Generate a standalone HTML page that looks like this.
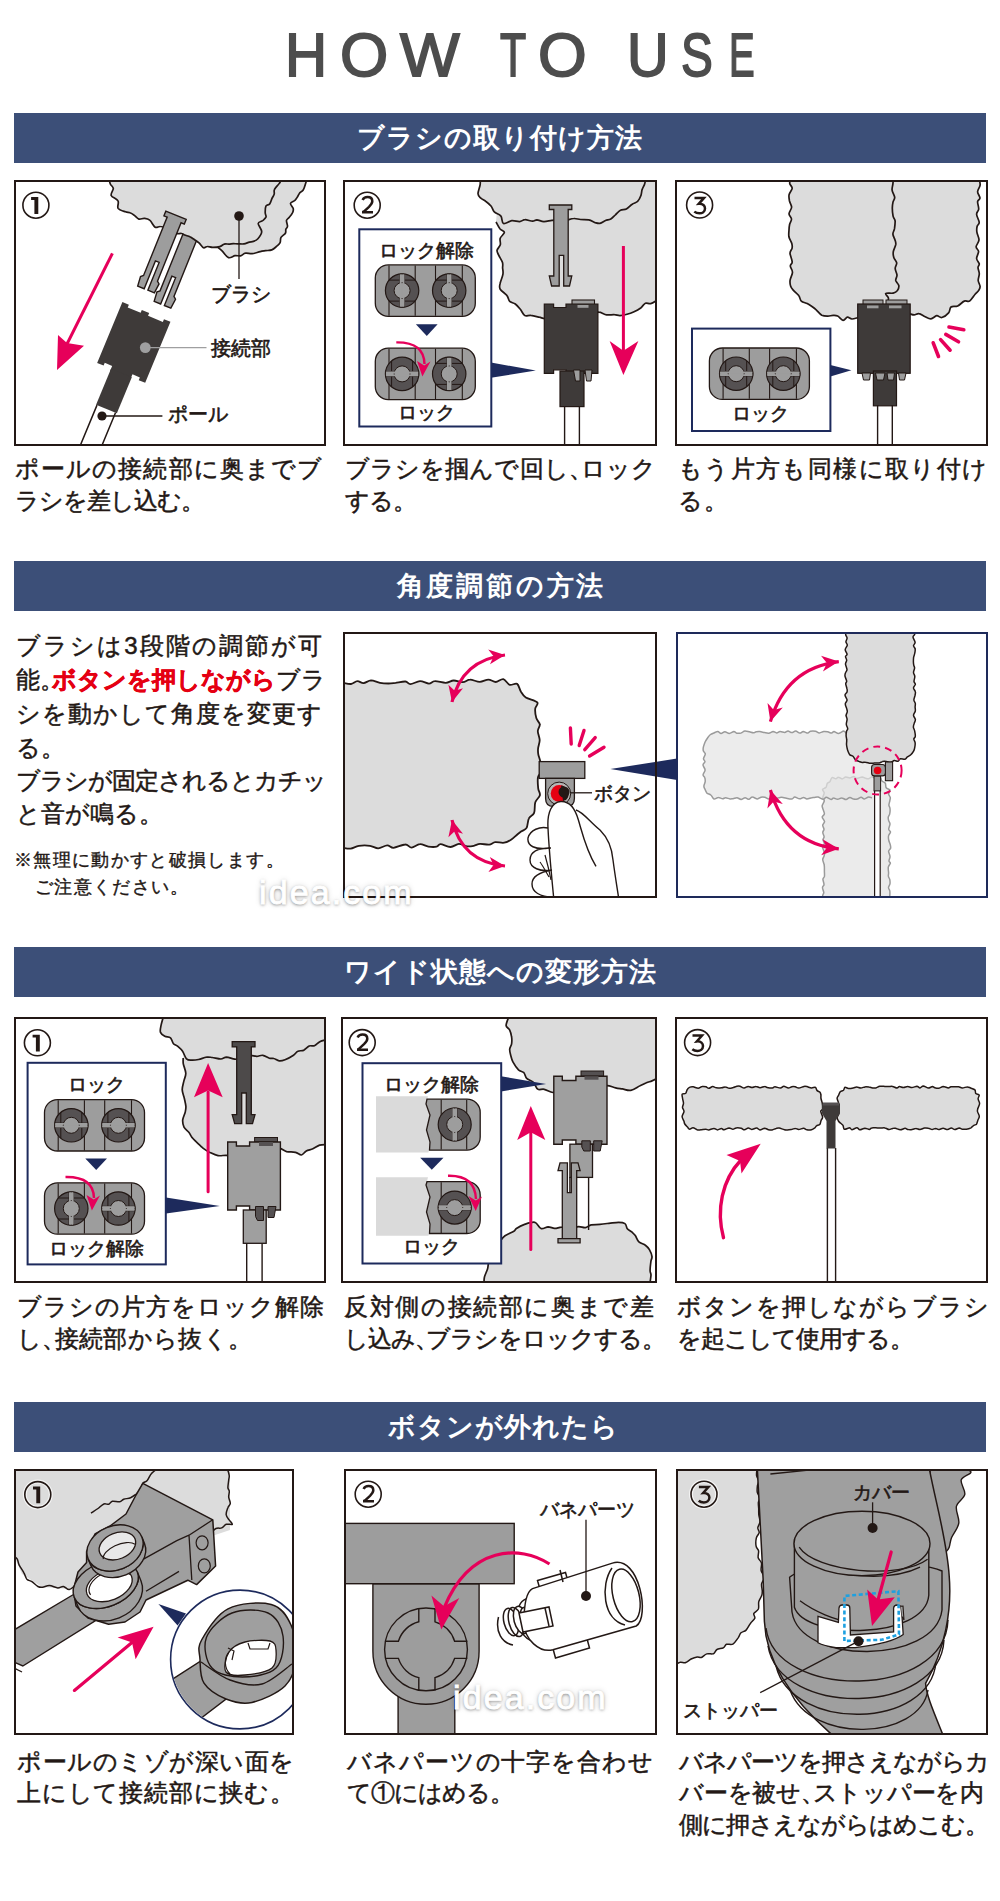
<!DOCTYPE html>
<html><head><meta charset="utf-8">
<style>
html,body{margin:0;padding:0;background:#fff;}
body{width:1000px;height:1901px;position:relative;overflow:hidden;font-family:"Liberation Sans",sans-serif;color:#231815;}
.t{position:absolute;top:15px;font-size:62px;line-height:80px;color:#4d4d4d;-webkit-text-stroke:1.8px #4d4d4d;transform-origin:0 0;}
.bar{position:absolute;left:14px;width:972px;height:50px;background:#3c4f78;color:#fff;font-weight:bold;font-size:27px;line-height:50px;text-align:center;letter-spacing:1px;}
.cap{position:absolute;font-size:24px;line-height:31.5px;white-space:nowrap;letter-spacing:-1px;-webkit-text-stroke:0.5px #231815;}
.p{margin-right:-0.5em}
.tx{position:absolute;left:16px;font-size:24px;line-height:34px;white-space:nowrap;letter-spacing:0;-webkit-text-stroke:0.5px #231815;}
.j{text-align:justify;text-align-last:justify;}
.nt{position:absolute;font-size:18px;line-height:24px;white-space:nowrap;letter-spacing:1.35px;-webkit-text-stroke:0.4px #231815;}
.wm{position:absolute;z-index:5;font-size:34px;line-height:40px;letter-spacing:2.1px;color:#fff;-webkit-text-stroke:0.9px #fff;text-shadow:0 1px 3px rgba(0,0,0,.45),0 0 6px rgba(0,0,0,.2);white-space:nowrap;}

svg{position:absolute;left:0;top:0;}
svg text{font-family:"Liberation Sans",sans-serif;stroke:#231815;stroke-width:0.6px;}
</style></head><body>

<div class="t" style="left:285.1px;transform:scaleX(0.94)">H</div>
<div class="t" style="left:339.9px;transform:scaleX(1.0)">O</div>
<div class="t" style="left:399.5px;transform:scaleX(1.02)">W</div>
<div class="t" style="left:500.4px;transform:scaleX(0.69)">T</div>
<div class="t" style="left:538.4px;transform:scaleX(1.01)">O</div>
<div class="t" style="left:627.2px;transform:scaleX(0.93)">U</div>
<div class="t" style="left:681.1px;transform:scaleX(0.77)">S</div>
<div class="t" style="left:728.8px;transform:scaleX(0.62)">E</div>
<div class="bar" style="top:113px">ブラシの取り付け方法</div>
<div class="bar" style="top:561px;letter-spacing:2.8px;text-indent:2.8px">角度調節の方法</div>
<div class="bar" style="top:947px">ワイド状態への変形方法</div>
<div class="bar" style="top:1402px;text-indent:6px">ボタンが外れたら</div>





<div class="cap j" style="left:15px;top:453px;width:306px">ポールの接続部に奥までブ</div>
<div class="cap j" style="left:15px;top:484.5px;width:178px">ラシを差し込む。</div>
<div class="cap j" style="left:345px;top:453px;width:310px">ブラシを掴んで回し<span class="p">、</span>ロック</div>
<div class="cap j" style="left:345px;top:484.5px;width:66px">する。</div>
<div class="cap j" style="left:678px;top:453px;width:308px">もう片方も同様に取り付け</div>
<div class="cap j" style="left:678px;top:484.5px;width:49px">る。</div>
<div class="cap j" style="left:17px;top:1291px;width:306px">ブラシの片方をロック解除</div>
<div class="cap j" style="left:17px;top:1322.5px;width:234px">し<span class="p">、</span>接続部から抜く。</div>
<div class="cap j" style="left:344px;top:1291px;width:309px">反対側の接続部に奥まで差</div>
<div class="cap j" style="left:344px;top:1322.5px;width:309px">し込み<span class="p">、</span>ブラシをロックする<span class="p">。</span></div>
<div class="cap j" style="left:677px;top:1291px;width:311px">ボタンを押しながらブラシ</div>
<div class="cap j" style="left:677px;top:1322.5px;width:236px">を起こして使用する。</div>
<div class="cap j" style="left:17px;top:1745.5px;width:276px">ポールのミゾが深い面を</div>
<div class="cap j" style="left:17px;top:1777px;width:276px">上にして接続部に挟む。</div>
<div class="cap j" style="left:347px;top:1745.5px;width:305px">バネパーツの十字を合わせ</div>
<div class="cap j" style="left:347px;top:1777px;width:160px">て①にはめる。</div>
<div class="cap j" style="left:679px;top:1745.5px;width:304px">バネパーツを押さえながらカ</div>
<div class="cap j" style="left:679px;top:1777px;width:304px">バーを被せ<span class="p">、</span>ストッパーを内</div>
<div class="cap j" style="left:679px;top:1808.5px;width:295px">側に押さえながらはめこむ。</div>
<div class="tx j" style="top:629px;width:306px">ブラシは3段階の調節が可</div>
<div class="tx j" style="top:663px;width:306px">能<span class="p">。</span><b style="color:#e50012;-webkit-text-stroke:0.6px #e50012">ボタンを押しながら</b>ブラ</div>
<div class="tx j" style="top:696.5px;width:306px">シを動かして角度を変更す</div>
<div class="tx" style="top:730.5px">る。</div>
<div class="tx j" style="top:764px;width:306px;letter-spacing:-1px">ブラシが固定されるとカチッ</div>
<div class="tx" style="top:797px">と音が鳴る。</div>
<div class="nt" style="left:14px;top:848px">※無理に動かすと破損します。</div>
<div class="nt" style="left:35px;top:875px">ご注意ください。</div>
<div class="wm" style="left:259px;top:872px">idea.com</div>
<div class="wm" style="left:453px;top:1677px">idea.com</div>
<svg width="1000" height="1901" viewBox="0 0 1000 1901">
<defs>
<clipPath id="c11"><rect x="15" y="181" width="310" height="264"/></clipPath>
<clipPath id="c12"><rect x="344" y="181" width="312" height="264"/></clipPath>
<clipPath id="c13"><rect x="676" y="181" width="311" height="264"/></clipPath>
<clipPath id="c22"><rect x="344" y="633" width="312" height="264"/></clipPath>
<clipPath id="c23"><rect x="677" y="633" width="310" height="264"/></clipPath>
<clipPath id="c31"><rect x="15" y="1018" width="310" height="264"/></clipPath>
<clipPath id="c32"><rect x="342" y="1018" width="314" height="264"/></clipPath>
<clipPath id="c33"><rect x="676" y="1018" width="311" height="264"/></clipPath>
<clipPath id="c41"><rect x="15" y="1470" width="278" height="264"/></clipPath>
<clipPath id="c42"><rect x="345" y="1470" width="311" height="264"/></clipPath>
<clipPath id="c43"><rect x="677" y="1470" width="310" height="264"/></clipPath>
</defs>
<g clip-path="url(#c11)">
<g transform="translate(35.9,205.2)"><circle r="13" fill="none" stroke="#231815" stroke-width="1.6"/><path d="M-4.8,-8.1 L2.4,-8.1 L2.4,8.7 L-1.5,8.7 L-1.5,-5.2 L-4.8,-5.2Z" fill="#231815"/></g>
<path d="M307,179C306.8,179.7 306.2,181.6 305.6,183.4C305,185.3 304.2,188.4 303.2,190C302.2,191.6 300.7,191.7 299.7,192.9C298.8,194.1 298.2,195.8 297.4,197C296.6,198.3 296,199.3 294.9,200.4C293.7,201.4 290.8,202.1 290.5,203.4C290.2,204.7 292.8,206.9 293.2,208.4C293.6,209.9 293.4,210.7 292.8,212.2C292.2,213.7 290.4,216 289.3,217.3C288.3,218.7 286.8,218.9 286.5,220.4C286.2,221.9 287.7,224.7 287.5,226.2C287.4,227.7 286.2,228.3 285.8,229.4C285.5,230.6 286.2,231.9 285.4,233.3C284.6,234.6 281.9,235.9 281,237.4C280.1,239 280.8,241.3 280.1,242.7C279.4,244.2 278.2,245 276.8,246.2C275.4,247.4 273.7,249.2 271.8,249.9C269.9,250.6 267.5,250.4 265.5,250.7C263.6,251 262.5,251.1 260.2,251.6C257.9,252.1 254.5,253.4 252,253.7C249.5,253.9 247.4,252.8 245.4,253.2C243.5,253.5 242.2,255.4 240.5,255.8C238.7,256.2 237,255.4 235,255.7C233,256 230.6,258.4 228.5,257.6C226.4,256.9 224.2,253 222.3,251.2C220.4,249.4 218.1,247.7 217.3,247L230,230 L250,170 L307,170Z" fill="#dcdcdc"/>
<path d="M307,179C306.8,179.7 306.2,181.6 305.6,183.4C305,185.3 304.2,188.4 303.2,190C302.2,191.6 300.7,191.7 299.7,192.9C298.8,194.1 298.2,195.8 297.4,197C296.6,198.3 296,199.3 294.9,200.4C293.7,201.4 290.8,202.1 290.5,203.4C290.2,204.7 292.8,206.9 293.2,208.4C293.6,209.9 293.4,210.7 292.8,212.2C292.2,213.7 290.4,216 289.3,217.3C288.3,218.7 286.8,218.9 286.5,220.4C286.2,221.9 287.7,224.7 287.5,226.2C287.4,227.7 286.2,228.3 285.8,229.4C285.5,230.6 286.2,231.9 285.4,233.3C284.6,234.6 281.9,235.9 281,237.4C280.1,239 280.8,241.3 280.1,242.7C279.4,244.2 278.2,245 276.8,246.2C275.4,247.4 273.7,249.2 271.8,249.9C269.9,250.6 267.5,250.4 265.5,250.7C263.6,251 262.5,251.1 260.2,251.6C257.9,252.1 254.5,253.4 252,253.7C249.5,253.9 247.4,252.8 245.4,253.2C243.5,253.5 242.2,255.4 240.5,255.8C238.7,256.2 237,255.4 235,255.7C233,256 230.6,258.4 228.5,257.6C226.4,256.9 224.2,253 222.3,251.2C220.4,249.4 218.1,247.7 217.3,247" fill="none" stroke="#231815" stroke-width="1.7"/>
<g transform="translate(176,215.3) rotate(22) translate(21,8)"><path d="M-7.5,-10 L7.5,-10 L7.5,68 L10,70 L9,80 L2,80 L2,50 L-2,50 L-2,80 L-9,80 L-10,70 L-7.5,68Z" fill="#9d9d9d" stroke="#231815" stroke-width="1.4"/></g>
<path d="M109.2,179C109.4,179.8 109.6,182.5 110.3,184C111,185.6 113.1,186.5 113.3,188.4C113.4,190.3 110.4,193.4 111.2,195.5C112,197.5 116.9,198.7 118,200.9C119.2,203 116.9,206.5 118.1,208.4C119.3,210.2 123.5,211.1 125.5,211.8C127.4,212.6 128.5,212.1 130,212.7C131.4,213.2 132.7,214.1 134.2,215.2C135.7,216.2 137.2,218.5 138.9,219.1C140.6,219.6 142.6,218.2 144.4,218.4C146.2,218.6 147.9,218.7 149.7,220.2C151.5,221.6 153.4,226.1 155.1,227.2C156.9,228.2 158.4,226.3 160.3,226.5C162.2,226.6 164.7,227.3 166.5,227.8C168.2,228.3 169.2,228.6 170.7,229.5C172.3,230.5 174,232.9 175.9,233.6C177.7,234.2 180.2,233.2 181.6,233.5C183.1,233.7 183.3,234.5 184.7,235C186,235.6 188.3,236 189.9,236.8C191.6,237.6 193,238.7 194.6,239.7C196.1,240.8 197.5,241.6 199,242.9C200.5,244.3 202.1,247.2 203.5,247.8C204.9,248.4 205.6,246.5 207.2,246.5C208.7,246.4 210.7,247.4 212.8,247.4C214.9,247.4 217.9,247.2 219.8,246.6C221.7,246.1 222.7,244.5 224.2,244.1C225.7,243.6 227.2,244.1 228.7,244.1C230.3,244 231.9,243.8 233.4,243.7C234.9,243.7 236.1,243.8 237.8,243.8C239.6,243.8 242,244.2 243.9,243.9C245.8,243.6 247.8,242.5 249.4,242.1C251,241.7 251.9,242 253.4,241.4C254.8,240.9 256.5,240.3 257.9,238.7C259.3,237.1 261.7,234.3 261.7,231.8C261.8,229.2 258,225.3 258.2,223.5C258.3,221.6 261.3,221.7 262.6,220.7C263.9,219.6 265.6,218.5 266,217.1C266.5,215.8 265.2,214.6 265.2,212.8C265.2,210.9 265.1,207.6 265.9,206.1C266.7,204.6 268.7,205.2 269.7,203.9C270.7,202.7 271.2,200.2 271.9,198.6C272.7,196.9 273.8,195.6 274.2,194.1C274.6,192.5 273.6,191.1 274.5,189.3C275.3,187.5 278.1,185.2 279.3,183.4C280.5,181.7 281.3,179.7 281.7,179L281.7,170 L109.2,170Z" fill="#dcdcdc"/>
<path d="M109.2,179C109.4,179.8 109.6,182.5 110.3,184C111,185.6 113.1,186.5 113.3,188.4C113.4,190.3 110.4,193.4 111.2,195.5C112,197.5 116.9,198.7 118,200.9C119.2,203 116.9,206.5 118.1,208.4C119.3,210.2 123.5,211.1 125.5,211.8C127.4,212.6 128.5,212.1 130,212.7C131.4,213.2 132.7,214.1 134.2,215.2C135.7,216.2 137.2,218.5 138.9,219.1C140.6,219.6 142.6,218.2 144.4,218.4C146.2,218.6 147.9,218.7 149.7,220.2C151.5,221.6 153.4,226.1 155.1,227.2C156.9,228.2 158.4,226.3 160.3,226.5C162.2,226.6 164.7,227.3 166.5,227.8C168.2,228.3 169.2,228.6 170.7,229.5C172.3,230.5 174,232.9 175.9,233.6C177.7,234.2 180.2,233.2 181.6,233.5C183.1,233.7 183.3,234.5 184.7,235C186,235.6 188.3,236 189.9,236.8C191.6,237.6 193,238.7 194.6,239.7C196.1,240.8 197.5,241.6 199,242.9C200.5,244.3 202.1,247.2 203.5,247.8C204.9,248.4 205.6,246.5 207.2,246.5C208.7,246.4 210.7,247.4 212.8,247.4C214.9,247.4 217.9,247.2 219.8,246.6C221.7,246.1 222.7,244.5 224.2,244.1C225.7,243.6 227.2,244.1 228.7,244.1C230.3,244 231.9,243.8 233.4,243.7C234.9,243.7 236.1,243.8 237.8,243.8C239.6,243.8 242,244.2 243.9,243.9C245.8,243.6 247.8,242.5 249.4,242.1C251,241.7 251.9,242 253.4,241.4C254.8,240.9 256.5,240.3 257.9,238.7C259.3,237.1 261.7,234.3 261.7,231.8C261.8,229.2 258,225.3 258.2,223.5C258.3,221.6 261.3,221.7 262.6,220.7C263.9,219.6 265.6,218.5 266,217.1C266.5,215.8 265.2,214.6 265.2,212.8C265.2,210.9 265.1,207.6 265.9,206.1C266.7,204.6 268.7,205.2 269.7,203.9C270.7,202.7 271.2,200.2 271.9,198.6C272.7,196.9 273.8,195.6 274.2,194.1C274.6,192.5 273.6,191.1 274.5,189.3C275.3,187.5 278.1,185.2 279.3,183.4C280.5,181.7 281.3,179.7 281.7,179" fill="none" stroke="#231815" stroke-width="1.7"/>
<g transform="translate(176,215.3) rotate(22)"><path d="M-11,0 L11,0 L11,5 L7.5,5 L7.5,68 L10,70 L9,80 L2,80 L2,50 L-2,50 L-2,80 L-9,80 L-10,70 L-7.5,68 L-7.5,5 L-11,5Z" fill="#9d9d9d" stroke="#231815" stroke-width="1.4"/></g>
<g transform="translate(133.8,342.4) rotate(22.5)"><path d="M-26,-33 L-19,-33 L-19,-30 L-5,-30 L-5,-33 L3,-33 L3,-30 L19,-30 L19,-33 L26,-33 L26,33 L19,33 L19,30 L11,30 L11,36 L-11,36 L-11,30 L-19,30 L-19,33 L-26,33Z" fill="#3e3a39"/>
<rect x="-11" y="33" width="22.5" height="39" fill="#3e3a39"/>
<path d="M-10,72 V140 M10,72 V140" stroke="#231815" stroke-width="1.5"/></g>
<circle cx="239" cy="216" r="4.8" fill="#231815"/>
<path d="M239,216 V279" stroke="#231815" stroke-width="1.3"/>
<circle cx="145.3" cy="347.6" r="5.4" fill="#9f9fa0"/>
<path d="M145.3,347.6 H206.5" stroke="#9f9fa0" stroke-width="1.3"/>
<circle cx="102" cy="416" r="4.6" fill="#231815"/>
<path d="M102,416 H162.4" stroke="#231815" stroke-width="1.3"/>
<path d="M112.4,253.4 L67,344" stroke="#e6005a" stroke-width="3"/>
<path d="M57,370 L58,335 L67,343 L84,345.8 Z" fill="#e6005a"/>
<text x="211" y="301" font-size="19.5" fill="#231815">ブラシ</text>
<text x="211" y="355" font-size="19.5" fill="#231815">接続部</text>
<text x="168" y="421" font-size="19.5" fill="#231815">ポール</text>
</g>
<g clip-path="url(#c12)">
<g transform="translate(367.2,205.2)"><circle r="13" fill="none" stroke="#231815" stroke-width="1.6"/><path d="M-4.6,-5.2 C-3.7,-7.2 -1.9,-8.1 0.3,-8.1 C3.3,-8.1 5.1,-6.4 5.1,-3.9 C5.1,-1.9 3.8,-0.4 1.8,1.6 L-3.6,6.6" fill="none" stroke="#231815" stroke-width="2.5"/><path d="M-5.2,5.6 L-2.6,5.6 L-2.6,5.9 H5.8 V8.3 H-5.2Z" fill="#231815"/></g>
<path d="M480,178C480,179 480.5,181.7 480.2,184.3C479.9,186.9 477.9,191.4 478,193.8C478.1,196.1 479.6,197 480.8,198.2C482.1,199.5 483.9,199.9 485.6,201.2C487.4,202.5 489.7,204.4 491.2,206.2C492.6,208 492.7,210.3 494.3,211.9C496,213.6 499.3,214.2 500.9,216.1C502.4,218.1 501.6,222.8 503.5,223.5C505.3,224.3 509.2,221 511.8,220.7C514.5,220.4 517.4,221.8 519.6,221.6C521.8,221.4 522.9,219.7 525,219.7C527.2,219.6 530.5,221.2 532.5,221.2C534.5,221.3 535,219.9 536.9,219.9C538.8,220 541.3,221.5 543.8,221.6C546.3,221.7 549.3,220.7 551.9,220.4C554.5,220.1 557.2,219.8 559.4,219.8C561.6,219.9 562.6,220.8 565,220.6C567.4,220.3 571.2,218.6 573.8,218.5C576.4,218.3 578,219.3 580.5,219.5C583,219.8 586.3,219.4 588.8,219.9C591.2,220.4 593.3,222 595.1,222.6C597,223.1 598.2,223.6 599.9,223.3C601.7,222.9 603.7,221.3 605.5,220.5C607.3,219.8 609.2,219.8 610.8,218.9C612.5,217.9 613.8,216.2 615.4,214.8C617,213.3 618.6,211.2 620.5,210.2C622.3,209.3 624.5,210 626.4,209C628.4,208 630.3,205.4 632.2,204.2C634,202.9 636.1,202.8 637.6,201.4C639,200 640.1,197.8 640.8,195.8C641.6,193.9 641.5,191.6 642.1,189.6C642.8,187.6 644.2,185.6 644.7,183.7C645.3,181.8 645.5,179 645.6,178L660,178Z" fill="#dcdcdc"/>
<path d="M496,222C496.6,223.1 498.5,227 499.9,228.8C501.3,230.5 504.4,230.7 504.4,232.3C504.5,233.9 500.9,236.1 500.2,238.2C499.5,240.3 500.9,242.8 500.3,244.8C499.8,246.8 497.3,248.5 497,250.3C496.8,252.1 497.9,253.3 498.8,255.4C499.7,257.4 501.9,260.5 502.5,262.6C503.1,264.7 502.6,265.9 502.6,267.9C502.7,269.8 503.4,271.8 502.9,274.4C502.5,277 500.5,281.1 500.1,283.5C499.6,286 499,287.2 500.2,289.2C501.4,291.2 505.5,293.5 507,295.6C508.6,297.6 508.3,299.9 509.7,301.3C511.1,302.7 513.5,302.6 515.3,304C517,305.3 518.7,307.4 520.3,309.3C521.9,311.3 523.1,314.6 524.8,315.6C526.6,316.6 528.3,315.1 530.8,315.4C533.2,315.6 536.8,316.6 539.3,317.2C541.7,317.7 542.9,318.8 545.5,318.5C548,318.3 552.2,316.3 554.6,315.8C557,315.3 558.1,315.5 560,315.6C561.8,315.6 563.5,316.6 565.9,316.3C568.3,316 572.3,314.1 574.4,313.7C576.6,313.4 576.9,314 578.6,314C580.3,314 582.2,313.6 584.5,313.7C586.9,313.8 590.5,314.7 592.9,314.4C595.3,314.1 596.7,312 599,312.1C601.2,312.1 604,314.4 606.6,314.8C609.2,315.2 612.3,314.5 614.5,314.7C616.8,314.8 617.9,315.7 620,315.6C622,315.5 624.8,314.9 627,314.3C629.3,313.7 631.2,313.1 633.5,312C635.7,311 638.7,309.5 640.7,308C642.6,306.5 643.7,303.9 645.4,303.2C647,302.5 648.8,304.1 650.7,303.6C652.7,303.1 656,300.9 657,300.4L660,300 L660,178 L500,178Z" fill="#dcdcdc"/>
<path d="M480,178C480,179 480.5,181.7 480.2,184.3C479.9,186.9 477.9,191.4 478,193.8C478.1,196.1 479.6,197 480.8,198.2C482.1,199.5 483.9,199.9 485.6,201.2C487.4,202.5 489.7,204.4 491.2,206.2C492.6,208 492.7,210.3 494.3,211.9C496,213.6 499.3,214.2 500.9,216.1C502.4,218.1 501.6,222.8 503.5,223.5C505.3,224.3 509.2,221 511.8,220.7C514.5,220.4 517.4,221.8 519.6,221.6C521.8,221.4 522.9,219.7 525,219.7C527.2,219.6 530.5,221.2 532.5,221.2C534.5,221.3 535,219.9 536.9,219.9C538.8,220 541.3,221.5 543.8,221.6C546.3,221.7 549.3,220.7 551.9,220.4C554.5,220.1 557.2,219.8 559.4,219.8C561.6,219.9 562.6,220.8 565,220.6C567.4,220.3 571.2,218.6 573.8,218.5C576.4,218.3 578,219.3 580.5,219.5C583,219.8 586.3,219.4 588.8,219.9C591.2,220.4 593.3,222 595.1,222.6C597,223.1 598.2,223.6 599.9,223.3C601.7,222.9 603.7,221.3 605.5,220.5C607.3,219.8 609.2,219.8 610.8,218.9C612.5,217.9 613.8,216.2 615.4,214.8C617,213.3 618.6,211.2 620.5,210.2C622.3,209.3 624.5,210 626.4,209C628.4,208 630.3,205.4 632.2,204.2C634,202.9 636.1,202.8 637.6,201.4C639,200 640.1,197.8 640.8,195.8C641.6,193.9 641.5,191.6 642.1,189.6C642.8,187.6 644.2,185.6 644.7,183.7C645.3,181.8 645.5,179 645.6,178" fill="none" stroke="#231815" stroke-width="1.7"/>
<path d="M496,222C496.6,223.1 498.5,227 499.9,228.8C501.3,230.5 504.4,230.7 504.4,232.3C504.5,233.9 500.9,236.1 500.2,238.2C499.5,240.3 500.9,242.8 500.3,244.8C499.8,246.8 497.3,248.5 497,250.3C496.8,252.1 497.9,253.3 498.8,255.4C499.7,257.4 501.9,260.5 502.5,262.6C503.1,264.7 502.6,265.9 502.6,267.9C502.7,269.8 503.4,271.8 502.9,274.4C502.5,277 500.5,281.1 500.1,283.5C499.6,286 499,287.2 500.2,289.2C501.4,291.2 505.5,293.5 507,295.6C508.6,297.6 508.3,299.9 509.7,301.3C511.1,302.7 513.5,302.6 515.3,304C517,305.3 518.7,307.4 520.3,309.3C521.9,311.3 523.1,314.6 524.8,315.6C526.6,316.6 528.3,315.1 530.8,315.4C533.2,315.6 536.8,316.6 539.3,317.2C541.7,317.7 542.9,318.8 545.5,318.5C548,318.3 552.2,316.3 554.6,315.8C557,315.3 558.1,315.5 560,315.6C561.8,315.6 563.5,316.6 565.9,316.3C568.3,316 572.3,314.1 574.4,313.7C576.6,313.4 576.9,314 578.6,314C580.3,314 582.2,313.6 584.5,313.7C586.9,313.8 590.5,314.7 592.9,314.4C595.3,314.1 596.7,312 599,312.1C601.2,312.1 604,314.4 606.6,314.8C609.2,315.2 612.3,314.5 614.5,314.7C616.8,314.8 617.9,315.7 620,315.6C622,315.5 624.8,314.9 627,314.3C629.3,313.7 631.2,313.1 633.5,312C635.7,311 638.7,309.5 640.7,308C642.6,306.5 643.7,303.9 645.4,303.2C647,302.5 648.8,304.1 650.7,303.6C652.7,303.1 656,300.9 657,300.4" fill="none" stroke="#231815" stroke-width="1.7"/>
<path d="M549.3,205 H571.8 V209.5 H568.2 V276 L571.8,276 L569.5,286 H563.7 V255.4 H559.2 V286 H551.6 L549.3,276 H553.8 V209.5 H549.3Z" fill="#9d9d9d" stroke="#231815" stroke-width="1.3"/>
<rect x="572" y="300" width="22.5" height="5" fill="#9d9d9d" stroke="#231815" stroke-width="1.1"/>
<path d="M544.3,304 H553.6 V307.5 H566 V304 H597.9 V373.3 H566 V369.8 H553.6 V373.3 H544.3Z" fill="#3e3a39" stroke="#231815" stroke-width="1.2"/>
<rect x="577.5" y="305" width="11" height="2.8" fill="#9d9d9d"/>
<rect x="560" y="371" width="24" height="35.6" fill="#3e3a39" stroke="#231815" stroke-width="1.2"/>
<path d="M573.5,370 h6.5 v11 h-4.5z M585,370 h7 l-1,11 h-4.5z" fill="#9d9d9d" stroke="#231815" stroke-width="1"/>
<path d="M564.6,406 V446 M579.4,406 V446" stroke="#231815" stroke-width="1.4"/>
<path d="M623.4,246 V352" stroke="#e6005a" stroke-width="3"/>
<path d="M609.6,340.9 L623.4,350.8 L638.4,340.9 L623.4,375Z" fill="#e6005a"/>
<rect x="359.3" y="229.3" width="132" height="197.2" fill="#fff" stroke="#1d2a5c" stroke-width="2"/>
<path d="M491,362.5 L535.8,370.6 L491,377.8Z" fill="#1d2a5c"/>
<text x="426" y="257" font-size="19" text-anchor="middle" fill="#231815">ロック解除</text>
<rect x="375.3" y="264.9" width="100" height="51.4" rx="13" fill="#9d9d9d" stroke="#231815" stroke-width="1.3"/>
<path d="M389,265.5 V315.7" stroke="#231815" stroke-width="1.1"/>
<path d="M415.2,265.5 V315.7" stroke="#231815" stroke-width="1.1"/>
<path d="M435.5,265.5 V315.7" stroke="#231815" stroke-width="1.1"/>
<path d="M462.3,265.5 V315.7" stroke="#231815" stroke-width="1.1"/>
<g transform="translate(402.1,290.6) rotate(0)"><circle r="16.7" fill="#555152" stroke="#231815" stroke-width="1.2"/><path d="M-13,-10.5 H-2.2 M2.2,-10.5 H13 M-13,10.5 H-2.2 M2.2,10.5 H13" stroke="#231815" stroke-width="1"/><path d="M-2.2,-16.6 H2.2 V16.6 H-2.2Z" fill="#9d9d9d" stroke="#231815" stroke-width="0.9"/><circle r="8" fill="#9d9d9d" stroke="#231815" stroke-width="1"/><path d="M-1.4,-16 V16 M1.4,-16 V16" stroke="#9d9d9d" stroke-width="1.8"/></g>
<g transform="translate(449.2,290.6) rotate(0)"><circle r="16.7" fill="#555152" stroke="#231815" stroke-width="1.2"/><path d="M-13,-10.5 H-2.2 M2.2,-10.5 H13 M-13,10.5 H-2.2 M2.2,10.5 H13" stroke="#231815" stroke-width="1"/><path d="M-2.2,-16.6 H2.2 V16.6 H-2.2Z" fill="#9d9d9d" stroke="#231815" stroke-width="0.9"/><circle r="8" fill="#9d9d9d" stroke="#231815" stroke-width="1"/><path d="M-1.4,-16 V16 M1.4,-16 V16" stroke="#9d9d9d" stroke-width="1.8"/></g>
<path d="M415.9,324.3 H437.6 L426.8,335.9Z" fill="#1d2a5c"/>
<rect x="375.3" y="348.2" width="100" height="51.4" rx="13" fill="#9d9d9d" stroke="#231815" stroke-width="1.3"/>
<path d="M389,348.8 V399" stroke="#231815" stroke-width="1.1"/>
<path d="M415.2,348.8 V399" stroke="#231815" stroke-width="1.1"/>
<path d="M435.5,348.8 V399" stroke="#231815" stroke-width="1.1"/>
<path d="M462.3,348.8 V399" stroke="#231815" stroke-width="1.1"/>
<g transform="translate(402.1,373.9) rotate(90)"><circle r="16.7" fill="#555152" stroke="#231815" stroke-width="1.2"/><path d="M-13,-10.5 H-2.2 M2.2,-10.5 H13 M-13,10.5 H-2.2 M2.2,10.5 H13" stroke="#231815" stroke-width="1"/><path d="M-2.2,-16.6 H2.2 V16.6 H-2.2Z" fill="#9d9d9d" stroke="#231815" stroke-width="0.9"/><circle r="8" fill="#9d9d9d" stroke="#231815" stroke-width="1"/><path d="M-1.4,-16 V16 M1.4,-16 V16" stroke="#9d9d9d" stroke-width="1.8"/></g>
<g transform="translate(449.2,373.9) rotate(0)"><circle r="16.7" fill="#555152" stroke="#231815" stroke-width="1.2"/><path d="M-13,-10.5 H-2.2 M2.2,-10.5 H13 M-13,10.5 H-2.2 M2.2,10.5 H13" stroke="#231815" stroke-width="1"/><path d="M-2.2,-16.6 H2.2 V16.6 H-2.2Z" fill="#9d9d9d" stroke="#231815" stroke-width="0.9"/><circle r="8" fill="#9d9d9d" stroke="#231815" stroke-width="1"/><path d="M-1.4,-16 V16 M1.4,-16 V16" stroke="#9d9d9d" stroke-width="1.8"/></g>
<path d="M396.3,342.4 Q424,342 424.5,364" fill="none" stroke="#e6005a" stroke-width="2.4"/>
<path d="M417,361 L424.2,365.5 L430.5,361.5 L422.4,376.5Z" fill="#e6005a"/>
<text x="426" y="418.5" font-size="19" text-anchor="middle" fill="#231815">ロック</text>
</g>
<g clip-path="url(#c13)">
<g transform="translate(699.6,205)"><circle r="13" fill="none" stroke="#231815" stroke-width="1.6"/><path d="M-5.1,-7.1 H4.4 L-0.8,-1.2 C3.4,-1.6 5.4,0.9 5.4,3.4 C5.4,6.9 2.4,8.3 -0.1,8.3 C-2.6,8.3 -4.1,7.6 -5.3,6.6" fill="none" stroke="#231815" stroke-width="2.5" stroke-linejoin="miter"/></g>
<path d="M979,178C979.2,179.2 980.4,182.9 980.1,185.1C979.9,187.4 977.7,189.5 977.6,191.7C977.6,193.8 980,196.4 980,198C980,199.7 977.8,199.7 977.6,201.6C977.4,203.4 978.9,207 978.7,209.1C978.5,211.3 976.5,212.1 976.6,214.3C976.6,216.5 979.1,220.2 979.2,222.3C979.3,224.3 977.5,224.8 977.1,226.5C976.7,228.1 976.6,230 976.9,232.2C977.2,234.5 979.1,237.5 979,239.9C978.9,242.4 976.2,244.9 976.1,246.8C976.1,248.8 978.5,249.6 978.6,251.5C978.7,253.4 976.5,256.4 976.6,258.5C976.7,260.5 979,262.4 979.3,263.9C979.5,265.5 978,266 978,267.6C978,269.2 979.2,271.5 979.3,273.7C979.3,275.8 978.1,278.4 978.2,280.5C978.4,282.7 980.1,284.9 980.1,286.6C980.2,288.2 979.5,289.1 978.7,290.4C977.9,291.7 976.6,292.5 975.1,294.3C973.6,296.1 971.4,299.9 969.6,301.1C967.8,302.2 966.3,300.3 964.3,301.1C962.3,301.9 959.9,305 957.7,306C955.5,307 952.5,305.8 951,307C949.5,308.2 950.1,311.2 948.6,312.9C947.1,314.7 943.8,317 941.8,317.5C939.8,317.9 938.5,315.5 936.7,315.7C934.9,316 932.9,318.7 930.9,318.9C928.9,319 926.6,317.4 924.6,316.5C922.7,315.6 920.7,313.9 919,313.7C917.2,313.4 915.7,314.9 914.2,314.9C912.7,314.9 911.4,314.3 909.9,313.8C908.4,313.4 905.8,312.3 905,312L880,317 L880,178Z" fill="#dcdcdc"/>
<path d="M979,178C979.2,179.2 980.4,182.9 980.1,185.1C979.9,187.4 977.7,189.5 977.6,191.7C977.6,193.8 980,196.4 980,198C980,199.7 977.8,199.7 977.6,201.6C977.4,203.4 978.9,207 978.7,209.1C978.5,211.3 976.5,212.1 976.6,214.3C976.6,216.5 979.1,220.2 979.2,222.3C979.3,224.3 977.5,224.8 977.1,226.5C976.7,228.1 976.6,230 976.9,232.2C977.2,234.5 979.1,237.5 979,239.9C978.9,242.4 976.2,244.9 976.1,246.8C976.1,248.8 978.5,249.6 978.6,251.5C978.7,253.4 976.5,256.4 976.6,258.5C976.7,260.5 979,262.4 979.3,263.9C979.5,265.5 978,266 978,267.6C978,269.2 979.2,271.5 979.3,273.7C979.3,275.8 978.1,278.4 978.2,280.5C978.4,282.7 980.1,284.9 980.1,286.6C980.2,288.2 979.5,289.1 978.7,290.4C977.9,291.7 976.6,292.5 975.1,294.3C973.6,296.1 971.4,299.9 969.6,301.1C967.8,302.2 966.3,300.3 964.3,301.1C962.3,301.9 959.9,305 957.7,306C955.5,307 952.5,305.8 951,307C949.5,308.2 950.1,311.2 948.6,312.9C947.1,314.7 943.8,317 941.8,317.5C939.8,317.9 938.5,315.5 936.7,315.7C934.9,316 932.9,318.7 930.9,318.9C928.9,319 926.6,317.4 924.6,316.5C922.7,315.6 920.7,313.9 919,313.7C917.2,313.4 915.7,314.9 914.2,314.9C912.7,314.9 911.4,314.3 909.9,313.8C908.4,313.4 905.8,312.3 905,312" fill="none" stroke="#231815" stroke-width="1.7"/>
<path d="M791,178C790.8,178.9 789.5,181.7 789.7,183.4C789.9,185.1 792.3,186.5 792.2,188.3C792.1,190.2 789.5,192.5 789.1,194.6C788.6,196.7 789.1,198.9 789.5,201C790,203.1 791.7,205.2 791.6,207.3C791.5,209.4 789,211.8 789,213.7C789,215.6 791.4,217.2 791.5,219C791.6,220.8 790,222.6 789.6,224.5C789.2,226.3 789.1,228 789,230C788.9,232.1 788.5,234.6 788.9,236.8C789.4,239 791.3,241.6 791.8,243.4C792.3,245.3 792.4,246.5 792.1,248.1C791.8,249.7 790,250.9 790,253.2C790.1,255.5 792.2,259.7 792.2,261.9C792.3,264 790.2,264.3 790.3,266C790.3,267.7 792.5,269.9 792.5,272.2C792.5,274.6 790.4,277.8 790.1,280.1C789.8,282.4 790.1,284.4 790.6,286C791.1,287.7 791.6,288.3 793,289.9C794.3,291.5 797.3,293.6 798.7,295.5C800.1,297.3 799.9,299.8 801.3,301.1C802.7,302.5 805.3,302.7 807.2,303.6C809,304.6 810.8,305.8 812.3,306.8C813.8,307.9 814.6,308.5 816.2,309.9C817.7,311.3 819.9,314.2 821.8,315.3C823.8,316.3 826,316.2 827.9,316.2C829.7,316.2 831.4,315.4 833.1,315.4C834.7,315.4 835.9,315.2 837.6,316C839.3,316.8 841.5,320.1 843.1,320.3C844.8,320.5 846,317.4 847.4,317.2C848.9,317 850.1,318.9 851.9,319C853.7,319.1 857,317.8 858,317.6L900,317 L900,178Z" fill="#dcdcdc" stroke="none"/>
<path d="M791,178C790.8,178.9 789.5,181.7 789.7,183.4C789.9,185.1 792.3,186.5 792.2,188.3C792.1,190.2 789.5,192.5 789.1,194.6C788.6,196.7 789.1,198.9 789.5,201C790,203.1 791.7,205.2 791.6,207.3C791.5,209.4 789,211.8 789,213.7C789,215.6 791.4,217.2 791.5,219C791.6,220.8 790,222.6 789.6,224.5C789.2,226.3 789.1,228 789,230C788.9,232.1 788.5,234.6 788.9,236.8C789.4,239 791.3,241.6 791.8,243.4C792.3,245.3 792.4,246.5 792.1,248.1C791.8,249.7 790,250.9 790,253.2C790.1,255.5 792.2,259.7 792.2,261.9C792.3,264 790.2,264.3 790.3,266C790.3,267.7 792.5,269.9 792.5,272.2C792.5,274.6 790.4,277.8 790.1,280.1C789.8,282.4 790.1,284.4 790.6,286C791.1,287.7 791.6,288.3 793,289.9C794.3,291.5 797.3,293.6 798.7,295.5C800.1,297.3 799.9,299.8 801.3,301.1C802.7,302.5 805.3,302.7 807.2,303.6C809,304.6 810.8,305.8 812.3,306.8C813.8,307.9 814.6,308.5 816.2,309.9C817.7,311.3 819.9,314.2 821.8,315.3C823.8,316.3 826,316.2 827.9,316.2C829.7,316.2 831.4,315.4 833.1,315.4C834.7,315.4 835.9,315.2 837.6,316C839.3,316.8 841.5,320.1 843.1,320.3C844.8,320.5 846,317.4 847.4,317.2C848.9,317 850.1,318.9 851.9,319C853.7,319.1 857,317.8 858,317.6" fill="none" stroke="#231815" stroke-width="1.7"/>
<path d="M893.4,178C893.3,179 893.1,181.9 892.9,183.9C892.7,185.9 891.8,187.9 892.1,190.1C892.4,192.4 894.5,195.4 894.7,197.4C894.8,199.4 893.4,200.3 893,202.1C892.6,203.9 892.3,205.8 892.3,208.1C892.3,210.5 892.6,214 893.1,216.2C893.5,218.3 894.9,218.7 895.1,220.8C895.3,222.9 894.8,226.5 894.5,228.7C894.1,230.9 892.8,232.3 892.9,234.1C893,236 894.5,238.2 895,239.9C895.5,241.6 896,242.5 895.8,244.4C895.5,246.4 893.6,249.5 893.3,251.7C893,253.8 893.2,255.6 893.8,257.4C894.4,259.3 896.5,261 896.7,262.8C897,264.6 895.1,266.4 895.2,268.4C895.2,270.5 896.9,273.1 897,275.1C897.1,277.1 895.5,278.7 895.7,280.4C896,282.1 898.5,283.8 898.8,285.5C899.1,287.2 898.3,289.2 897.4,290.5C896.5,291.7 895.2,292.6 893.2,293.1C891.3,293.6 886.5,292.6 885.7,293.5C884.9,294.4 888.3,296.5 888.5,298.3C888.7,300 887.2,303 887,304" fill="none" stroke="#231815" stroke-width="1.7"/>
<rect x="863" y="300" width="20" height="4.5" fill="#9d9d9d" stroke="#231815" stroke-width="1"/>
<rect x="886" y="300" width="21" height="4.5" fill="#9d9d9d" stroke="#231815" stroke-width="1"/>
<rect x="857.7" y="304" width="52.5" height="69.3" fill="#3e3a39" stroke="#231815" stroke-width="1.2"/>
<rect x="867" y="305.5" width="11.5" height="2.8" fill="#9d9d9d"/>
<rect x="889" y="305.5" width="12.5" height="2.8" fill="#9d9d9d"/>
<rect x="873.4" y="371" width="23.1" height="34.8" fill="#3e3a39" stroke="#231815" stroke-width="1.2"/>
<path d="M862,373 h8.5 l-1,7 h-6z M875.5,373 h9.5 l-1.5,7 h-6.5z M887,373 h7.5 l-1,7 h-5.5z M898.5,373 h7.5 l-1.5,7 h-5z" fill="#9d9d9d" stroke="#231815" stroke-width="1"/>
<path d="M877.6,405 V446 M892.3,405 V446" stroke="#231815" stroke-width="1.4"/>
<path d="M933.2,342.8 L938.5,356.5 M940.6,339.6 L950.1,350.2 M945.8,334.4 L958.5,341.8 M949,327 L963.8,329.8" stroke="#e6005a" stroke-width="3.6" stroke-linecap="round"/>
<rect x="692" y="328.6" width="138.4" height="102.4" fill="#fff" stroke="#1d2a5c" stroke-width="2"/>
<path d="M830.4,364.9 L851.4,370.2 L830.4,376.5Z" fill="#1d2a5c"/>
<rect x="709.4" y="348" width="100" height="51.4" rx="13" fill="#9d9d9d" stroke="#231815" stroke-width="1.3"/>
<path d="M723.1,348.6 V398.8" stroke="#231815" stroke-width="1.1"/>
<path d="M749.3,348.6 V398.8" stroke="#231815" stroke-width="1.1"/>
<path d="M769.6,348.6 V398.8" stroke="#231815" stroke-width="1.1"/>
<path d="M796.4,348.6 V398.8" stroke="#231815" stroke-width="1.1"/>
<g transform="translate(736.2,373.7) rotate(90)"><circle r="16.7" fill="#555152" stroke="#231815" stroke-width="1.2"/><path d="M-13,-10.5 H-2.2 M2.2,-10.5 H13 M-13,10.5 H-2.2 M2.2,10.5 H13" stroke="#231815" stroke-width="1"/><path d="M-2.2,-16.6 H2.2 V16.6 H-2.2Z" fill="#9d9d9d" stroke="#231815" stroke-width="0.9"/><circle r="8" fill="#9d9d9d" stroke="#231815" stroke-width="1"/><path d="M-1.4,-16 V16 M1.4,-16 V16" stroke="#9d9d9d" stroke-width="1.8"/></g>
<g transform="translate(783.3,373.7) rotate(90)"><circle r="16.7" fill="#555152" stroke="#231815" stroke-width="1.2"/><path d="M-13,-10.5 H-2.2 M2.2,-10.5 H13 M-13,10.5 H-2.2 M2.2,10.5 H13" stroke="#231815" stroke-width="1"/><path d="M-2.2,-16.6 H2.2 V16.6 H-2.2Z" fill="#9d9d9d" stroke="#231815" stroke-width="0.9"/><circle r="8" fill="#9d9d9d" stroke="#231815" stroke-width="1"/><path d="M-1.4,-16 V16 M1.4,-16 V16" stroke="#9d9d9d" stroke-width="1.8"/></g>
<text x="760" y="420" font-size="19" text-anchor="middle" fill="#231815">ロック</text>
</g>
<g clip-path="url(#c22)">
<path d="M343,682.8C344.3,683 348.6,684.2 351,684C353.4,683.7 355.2,681.3 357.3,681.2C359.4,681 361.2,683.2 363.5,683.1C365.8,682.9 368.3,680.5 371,680.4C373.8,680.4 377.1,682.4 380,682.9C382.9,683.4 385.9,683.5 388.5,683.5C391.1,683.5 392.8,683.2 395.6,682.9C398.4,682.5 403,681.3 405.4,681.5C407.9,681.7 408,684.2 410.4,684.1C412.9,684.1 416.9,681.2 420,681.1C423,681 426.5,683.6 429,683.6C431.4,683.6 432,681.3 434.8,681.2C437.6,681 442.6,682.9 445.8,682.8C448.9,682.7 450.8,680.6 453.7,680.5C456.5,680.4 460.2,682.3 462.9,682.2C465.6,682 467.2,679.7 470,679.7C472.8,679.6 476.7,681.9 479.8,681.9C482.8,681.9 485.7,679.6 488.4,679.6C491,679.6 493.2,682 495.7,682C498.2,681.9 500.9,678.7 503.3,679.1C505.6,679.6 507.4,684 509.7,684.8C512,685.6 515.2,682.8 517.1,683.9C519,685 519.4,689.4 520.9,691.6C522.3,693.9 523.1,695.7 525.8,697.5C528.6,699.3 535.8,700.5 537.3,702.4C538.9,704.3 535.3,706.2 535.2,708.8C535,711.4 535.5,715.5 536.3,718.1C537,720.7 539.6,722.3 539.8,724.5C540.1,726.6 537.8,728.4 537.8,731C537.7,733.5 539.6,737.1 539.7,740C539.7,742.9 538.3,745.9 538.1,748.3C537.8,750.7 537.9,752 538.3,754.3C538.7,756.5 539.9,759.1 540.4,762C540.8,764.9 541.2,769.2 540.8,771.8C540.4,774.4 538.3,774.8 537.9,777.6C537.5,780.3 537.9,785.4 538.2,788.3C538.5,791.3 540.4,793 539.9,795.3C539.4,797.6 536.3,799.3 535.3,802.2C534.3,805.1 535.2,810.2 534.1,812.9C533.1,815.6 530.1,815.7 528.9,818.3C527.6,820.8 527.8,825.8 526.6,827.9C525.4,830.1 523.2,830.1 521.6,831.2C520.1,832.3 519,833.1 517.3,834.5C515.6,835.9 513.6,838.1 511.4,839.5C509.2,840.9 506.9,842.3 504.2,842.7C501.5,843.2 497.7,841.9 495.2,842.2C492.7,842.5 491.7,844.3 489.2,844.6C486.6,844.9 482.5,843.7 480,843.9C477.4,844.1 476,845.4 473.8,845.8C471.6,846.2 469.3,846.6 466.8,846.3C464.3,846 461.5,843.8 458.8,843.9C456.1,844.1 453.6,847 450.6,847C447.5,847.1 442.9,844.3 440.6,844.2C438.3,844.1 438.6,846.3 436.6,846.7C434.5,847.1 431.2,847 428.4,846.6C425.6,846.2 422.7,843.9 419.9,844.1C417.1,844.2 414,847.5 411.6,847.6C409.1,847.7 408.3,844.4 405.2,844.5C402.2,844.5 396.5,847.6 393.5,847.8C390.5,847.9 389.7,845.2 387.2,845.3C384.6,845.4 381.1,848.2 378.2,848.3C375.4,848.4 373.2,846.2 370,845.8C366.7,845.4 362,845.4 358.8,845.9C355.6,846.4 353.2,848.3 350.6,848.6C347.9,849 344.3,847.9 343,847.8L343,847.8Z" fill="#dcdcdc" stroke="none"/>
<path d="M343,682.8C344.3,683 348.6,684.2 351,684C353.4,683.7 355.2,681.3 357.3,681.2C359.4,681 361.2,683.2 363.5,683.1C365.8,682.9 368.3,680.5 371,680.4C373.8,680.4 377.1,682.4 380,682.9C382.9,683.4 385.9,683.5 388.5,683.5C391.1,683.5 392.8,683.2 395.6,682.9C398.4,682.5 403,681.3 405.4,681.5C407.9,681.7 408,684.2 410.4,684.1C412.9,684.1 416.9,681.2 420,681.1C423,681 426.5,683.6 429,683.6C431.4,683.6 432,681.3 434.8,681.2C437.6,681 442.6,682.9 445.8,682.8C448.9,682.7 450.8,680.6 453.7,680.5C456.5,680.4 460.2,682.3 462.9,682.2C465.6,682 467.2,679.7 470,679.7C472.8,679.6 476.7,681.9 479.8,681.9C482.8,681.9 485.7,679.6 488.4,679.6C491,679.6 493.2,682 495.7,682C498.2,681.9 500.9,678.7 503.3,679.1C505.6,679.6 507.4,684 509.7,684.8C512,685.6 515.2,682.8 517.1,683.9C519,685 519.4,689.4 520.9,691.6C522.3,693.9 523.1,695.7 525.8,697.5C528.6,699.3 535.8,700.5 537.3,702.4C538.9,704.3 535.3,706.2 535.2,708.8C535,711.4 535.5,715.5 536.3,718.1C537,720.7 539.6,722.3 539.8,724.5C540.1,726.6 537.8,728.4 537.8,731C537.7,733.5 539.6,737.1 539.7,740C539.7,742.9 538.3,745.9 538.1,748.3C537.8,750.7 537.9,752 538.3,754.3C538.7,756.5 539.9,759.1 540.4,762C540.8,764.9 541.2,769.2 540.8,771.8C540.4,774.4 538.3,774.8 537.9,777.6C537.5,780.3 537.9,785.4 538.2,788.3C538.5,791.3 540.4,793 539.9,795.3C539.4,797.6 536.3,799.3 535.3,802.2C534.3,805.1 535.2,810.2 534.1,812.9C533.1,815.6 530.1,815.7 528.9,818.3C527.6,820.8 527.8,825.8 526.6,827.9C525.4,830.1 523.2,830.1 521.6,831.2C520.1,832.3 519,833.1 517.3,834.5C515.6,835.9 513.6,838.1 511.4,839.5C509.2,840.9 506.9,842.3 504.2,842.7C501.5,843.2 497.7,841.9 495.2,842.2C492.7,842.5 491.7,844.3 489.2,844.6C486.6,844.9 482.5,843.7 480,843.9C477.4,844.1 476,845.4 473.8,845.8C471.6,846.2 469.3,846.6 466.8,846.3C464.3,846 461.5,843.8 458.8,843.9C456.1,844.1 453.6,847 450.6,847C447.5,847.1 442.9,844.3 440.6,844.2C438.3,844.1 438.6,846.3 436.6,846.7C434.5,847.1 431.2,847 428.4,846.6C425.6,846.2 422.7,843.9 419.9,844.1C417.1,844.2 414,847.5 411.6,847.6C409.1,847.7 408.3,844.4 405.2,844.5C402.2,844.5 396.5,847.6 393.5,847.8C390.5,847.9 389.7,845.2 387.2,845.3C384.6,845.4 381.1,848.2 378.2,848.3C375.4,848.4 373.2,846.2 370,845.8C366.7,845.4 362,845.4 358.8,845.9C355.6,846.4 353.2,848.3 350.6,848.6C347.9,849 344.3,847.9 343,847.8" fill="none" stroke="#231815" stroke-width="1.8"/>
<path d="M452,702 Q462,660 505,655" fill="none" stroke="#e6005a" stroke-width="3.2"/>
<path d="M452,702 L448.4,684.7 L454.7,690.8 L463,688.2Z" fill="#e6005a"/>
<path d="M505,655 L490,664.3 L493.6,656.3 L488.2,649.4Z" fill="#e6005a"/>
<path d="M452,820 Q462,862 505,866" fill="none" stroke="#e6005a" stroke-width="3.2"/>
<path d="M452,820 L463,833.8 L454.7,831.2 L448.4,837.3Z" fill="#e6005a"/>
<path d="M505,866 L488.4,872 L493.5,864.9 L489.8,857.1Z" fill="#e6005a"/>
<path d="M570.4,728 L571.2,744 M584,730.4 L579.2,745.6 M595.2,737.6 L584.8,749.6 M604,747.2 L589.6,756" stroke="#e6005a" stroke-width="3.4" stroke-linecap="round"/>
<rect x="539.2" y="761.6" width="45.6" height="16.8" fill="#9d9d9d" stroke="#231815" stroke-width="1.3"/>
<path d="M545.6,778.4 H574.4 V798.4 Q574.4,806.4 566.4,806.4 H553.6 Q545.6,806.4 545.6,798.4Z" fill="#9d9d9d" stroke="#231815" stroke-width="1.3"/>
<circle cx="559.2" cy="793.6" r="11.5" fill="#b5b5b5" stroke="#231815" stroke-width="1"/>
<circle cx="559.2" cy="793.6" r="8.5" fill="#e50012"/>
<path d="M561,785.5 A8.5,8.5 0 0 1 566,800 L563,801 Z" fill="#231815"/>
<circle cx="564" cy="792" r="5.5" fill="#231815"/>
<path d="M570,792.8 H592" stroke="#231815" stroke-width="1.3"/>
<text x="594" y="800" font-size="19" fill="#231815">ボタン</text>
<path d="M553.6,897 C551,870 549,850 548,828 C547,812 552,802 560.8,801.5 C570,801 575,808 578.4,820 C582,832 586,850 596,866.4 L618.5,897 C617,887 615,875 613,860 C612,848 608,838 600,830 C590,822 583,812 576,810Z" fill="#fff"/>
<path d="M548,828 C540,826 530,830 528,838 C527,846 535,850 549,848 C538,848 530,852 530,860 C530,868 540,872 552,870 C540,872 532,876 532,884 C532,892 540,897 553,897Z" fill="#fff"/>
<path d="M553.6,897 C551,870 549,850 548,828 C547,812 552,802 560.8,801.5 C570,801 575,808 578.4,820 C582,832 586,850 596,866.4" fill="none" stroke="#231815" stroke-width="1.4"/>
<path d="M576,810 C583,812 590,822 600,830 C608,838 612,848 613,860 C615,875 617,887 618.5,897" fill="none" stroke="#231815" stroke-width="1.4"/>
<path d="M548,828 C540,826 530,830 528,838 C527,846 535,850 549,848 M551,848 C538,848 530,852 530,860 C530,868 540,872 552,870 M552,870 C540,872 532,876 532,884 C532,892 540,897 553,897" fill="none" stroke="#231815" stroke-width="1.4"/>
<path d="M545,855 C547,862 549,870 551,880 M540,862 C543,866 546,872 549,877" fill="none" stroke="#231815" stroke-width="1.2"/>
</g>
<path d="M610.4,769.1 L677,758.5 L677,780Z" fill="#1d2a5c"/>
<g clip-path="url(#c23)">
<path d="M823.2,900C823.1,899.3 822.6,896.9 822.7,895.6C822.8,894.4 823.8,893.9 823.8,892.5C823.7,891.2 822.4,888.9 822.5,887.5C822.5,886.2 823.9,885.9 824,884.6C824.1,883.2 822.9,880.7 822.9,879.3C823,878 824.2,877.8 824.4,876.5C824.7,875.1 824.4,872.9 824.4,871.4C824.4,869.9 824.4,868.7 824.4,867.5C824.3,866.4 824.4,865.8 824.1,864.5C823.9,863.2 822.7,860.9 822.7,859.5C822.7,858.1 823.7,857.4 824,856.3C824.3,855.2 824.7,854.3 824.5,852.8C824.2,851.2 822.6,848.6 822.6,847C822.6,845.5 824.4,844.7 824.4,843.5C824.5,842.3 823.1,841.1 823,840C822.9,838.9 824.1,838 824.1,836.7C824,835.5 822.8,833.6 822.8,832.4C822.8,831.1 824,830.4 824,829.2C824,828 822.6,826.4 822.7,825.1C822.8,823.9 824.6,822.9 824.6,821.6C824.5,820.3 822.2,818.4 822.2,817.1C822.2,815.9 824.3,815.4 824.4,813.9C824.5,812.5 823.2,810 822.8,808.6C822.5,807.2 821.9,806.8 822.2,805.6C822.4,804.3 824.2,802.2 824.3,800.9C824.4,799.7 822.8,799.3 822.8,797.9C822.7,796.6 824.2,794.3 824.2,792.9C824.1,791.5 822.2,790.4 822.5,789.5C822.8,788.5 825.2,788.3 826,787.3C826.8,786.2 826.7,784.2 827.4,783.3C828,782.4 829,782.7 829.8,781.8C830.6,780.8 831,778.1 832,777.6C833,777.1 834.8,778.8 835.9,778.7C836.9,778.6 837.3,777.1 838.4,777.2C839.4,777.2 840.9,778.9 842.1,778.9C843.3,778.9 844.4,777.2 845.7,777C847,776.9 848.7,778 850,777.9C851.3,777.8 852.6,776.4 853.7,776.5C854.8,776.6 855.2,778.3 856.6,778.4C858,778.5 860.7,777 862.1,776.9C863.6,776.9 864.2,777.8 865.3,778.1C866.4,778.5 867.6,779 868.7,778.8C869.9,778.6 870.9,776.8 872.1,776.8C873.2,776.8 874.4,778.4 875.8,778.6C877.2,778.7 879.5,777.3 880.5,777.6C881.5,778 880.8,779.9 881.6,780.8C882.4,781.7 884.5,782.1 885.3,783.2C886,784.4 885.4,786.6 886.2,787.8C887,788.9 889.6,789 890,790C890.4,791 888.6,792.7 888.6,794C888.7,795.2 890.1,796.4 890.3,797.6C890.5,798.7 890,799.5 889.8,800.8C889.6,802 888.9,803.7 888.9,805C888.9,806.3 889.9,807 890,808.5C890.2,810 890,812.4 889.7,813.8C889.5,815.2 888.5,815.9 888.3,817C888.1,818.1 888.3,819.3 888.6,820.4C888.8,821.6 890,822.4 890,823.9C890,825.3 888.6,827.8 888.7,829.2C888.8,830.5 890.5,831 890.5,832.1C890.5,833.1 888.9,834.3 888.6,835.6C888.3,836.9 888.4,838.5 888.7,840C889,841.5 890,843.5 890.3,844.8C890.6,846.2 890.9,847.2 890.6,848.2C890.3,849.3 888.7,849.8 888.6,851.2C888.5,852.6 890,855 890,856.6C890.1,858.2 888.9,859.8 889,860.9C889,862 890.5,862.1 890.4,863.1C890.2,864.2 888.6,865.6 888.3,867.2C888,868.9 888.6,871.5 888.6,873C888.6,874.5 888.2,875.1 888.4,876.2C888.5,877.3 889.5,878.4 889.8,879.6C890,880.8 890.2,882.3 890,883.6C889.8,884.9 888.6,886.3 888.5,887.5C888.5,888.8 889.6,889.7 889.8,891C890,892.4 889.9,894.2 889.8,895.7C889.7,897.2 889.3,899.3 889.2,900Z" fill="#e4e4e4" fill-opacity="0.75" stroke="#9a9a9a" stroke-width="1.5"/>
<path d="M874,732.4C873.3,732.3 871,731.8 869.8,732C868.5,732.2 867.7,733.5 866.4,733.4C865.1,733.3 863.3,731.6 861.9,731.5C860.5,731.5 859.1,732.9 858,733.1C856.9,733.3 856.4,733 855.1,732.7C853.7,732.4 851.2,731.3 849.9,731.4C848.5,731.5 847.9,733.4 846.9,733.4C845.9,733.3 845,731.1 843.6,731.1C842.3,731.2 840.3,733.4 838.7,733.4C837.1,733.5 835.1,731.6 834,731.5C832.8,731.5 832.7,733.1 831.6,733.1C830.6,733.1 829,732.1 827.7,731.8C826.3,731.5 825.1,731.3 823.7,731.5C822.3,731.7 820.7,733 819.3,732.9C817.9,732.9 817,731.5 815.5,731.2C814,730.9 811.7,730.9 810.4,731.2C809.1,731.5 808.9,733 807.7,733.1C806.5,733.1 804.5,731.5 803.2,731.5C801.9,731.6 801.1,733.2 799.8,733.1C798.6,733 797,731.1 795.7,731C794.3,730.9 793.2,732.6 791.9,732.6C790.6,732.6 789.2,731 788,731C786.8,731 786,732.4 784.7,732.5C783.4,732.6 781.4,731.5 780,731.6C778.6,731.7 777.7,732.9 776.6,732.9C775.4,732.9 774.4,731.5 773.1,731.5C771.8,731.6 770.2,733.1 768.8,733.2C767.4,733.4 766,732.9 764.5,732.6C763,732.3 761.1,731.7 759.8,731.6C758.4,731.5 757.3,731.6 756.2,731.8C755.1,732 754.4,732.8 753.3,732.8C752.1,732.8 750.8,732.1 749.4,731.8C748,731.5 746.2,730.8 744.8,731C743.4,731.2 742.5,732.5 741.2,732.9C739.8,733.2 737.9,733.4 736.7,733.2C735.5,732.9 735.2,731.5 733.9,731.5C732.7,731.6 730.8,733.4 729.3,733.5C727.8,733.5 726.3,731.7 724.9,731.7C723.5,731.7 722.2,733.6 721,733.5C719.9,733.5 719,731.5 717.8,731.4C716.7,731.3 715.6,732.3 714.4,732.8C713.2,733.3 711.6,733.7 710.5,734.5C709.4,735.4 708.6,736.5 707.7,737.7C706.8,739 705.8,740.5 705.1,742C704.4,743.6 703.8,745.5 703.4,746.9C703.1,748.4 703,749.7 703.3,750.8C703.6,752 705.3,752.6 705.3,753.9C705.4,755.1 703.6,757.3 703.5,758.6C703.4,759.9 705,760.7 705,761.7C704.9,762.8 702.9,763.6 703,765C703,766.4 705.1,768.3 705.1,770C705.1,771.6 703.1,773.5 703.1,774.8C703,776.1 704.5,776.6 704.8,777.7C705.2,778.9 705.3,780.2 705.2,781.6C705,783 703.9,784.8 703.9,786.1C703.8,787.4 704.5,788.1 705,789.3C705.5,790.5 706,792.2 707,793.2C707.9,794.1 709.7,794 710.8,795C712,796 712.8,798.6 714,799C715.2,799.4 716.8,797.5 718.3,797.5C719.7,797.4 721.4,798.7 722.6,798.7C723.8,798.8 724.4,797.8 725.6,797.8C726.8,797.8 728.6,798.7 729.9,798.9C731.1,799 731.9,798.8 733.1,798.7C734.3,798.5 735.7,797.6 737,797.7C738.3,797.9 739.7,799.4 741.1,799.4C742.4,799.4 743.8,797.7 745.1,797.7C746.4,797.7 747.7,799.4 748.9,799.3C750.1,799.2 750.9,797.1 752.3,797.1C753.7,797 755.9,798.9 757.4,798.9C758.8,799 759.9,797.5 761.1,797.2C762.3,796.9 763.5,797 764.8,797.3C766.1,797.6 767.5,799 768.7,799C769.9,799.1 770.7,797.5 771.9,797.4C773.1,797.3 774.4,798.6 775.7,798.6C777.1,798.6 778.8,797.6 780,797.4C781.2,797.2 781.6,797.2 783,797.4C784.4,797.6 787,798.5 788.6,798.7C790.2,799 791.3,799 792.4,798.7C793.4,798.4 793.6,797 794.8,797C796,797 798.2,798.8 799.6,798.8C801.1,798.9 802.3,797.4 803.5,797.4C804.7,797.4 805.6,798.8 806.9,798.9C808.3,798.9 810.4,797.9 811.7,797.7C812.9,797.4 813.4,797.5 814.5,797.4C815.5,797.3 816.5,796.8 818,797.1C819.4,797.4 821.9,799.2 823.3,799.2C824.7,799.2 824.9,797.2 826.2,797.2C827.5,797.2 829.9,799.3 831.1,799.4C832.3,799.5 832.4,798 833.4,798C834.5,797.9 836.2,799.3 837.6,799.3C839,799.3 840.3,797.8 841.7,797.9C843.1,797.9 844.7,799.6 846,799.5C847.4,799.4 848.6,797.5 849.9,797.4C851.1,797.3 852.3,798.8 853.5,799.1C854.8,799.4 856.2,799.3 857.4,799C858.7,798.7 859.9,797.3 861.1,797.3C862.3,797.3 863.1,799 864.4,798.9C865.6,798.9 867.4,797.1 868.7,796.9C869.9,796.8 871.4,797.8 872,798Z" fill="#e4e4e4" fill-opacity="0.7"/>
<path d="M874,732.4C873.3,732.3 871,731.8 869.8,732C868.5,732.2 867.7,733.5 866.4,733.4C865.1,733.3 863.3,731.6 861.9,731.5C860.5,731.5 859.1,732.9 858,733.1C856.9,733.3 856.4,733 855.1,732.7C853.7,732.4 851.2,731.3 849.9,731.4C848.5,731.5 847.9,733.4 846.9,733.4C845.9,733.3 845,731.1 843.6,731.1C842.3,731.2 840.3,733.4 838.7,733.4C837.1,733.5 835.1,731.6 834,731.5C832.8,731.5 832.7,733.1 831.6,733.1C830.6,733.1 829,732.1 827.7,731.8C826.3,731.5 825.1,731.3 823.7,731.5C822.3,731.7 820.7,733 819.3,732.9C817.9,732.9 817,731.5 815.5,731.2C814,730.9 811.7,730.9 810.4,731.2C809.1,731.5 808.9,733 807.7,733.1C806.5,733.1 804.5,731.5 803.2,731.5C801.9,731.6 801.1,733.2 799.8,733.1C798.6,733 797,731.1 795.7,731C794.3,730.9 793.2,732.6 791.9,732.6C790.6,732.6 789.2,731 788,731C786.8,731 786,732.4 784.7,732.5C783.4,732.6 781.4,731.5 780,731.6C778.6,731.7 777.7,732.9 776.6,732.9C775.4,732.9 774.4,731.5 773.1,731.5C771.8,731.6 770.2,733.1 768.8,733.2C767.4,733.4 766,732.9 764.5,732.6C763,732.3 761.1,731.7 759.8,731.6C758.4,731.5 757.3,731.6 756.2,731.8C755.1,732 754.4,732.8 753.3,732.8C752.1,732.8 750.8,732.1 749.4,731.8C748,731.5 746.2,730.8 744.8,731C743.4,731.2 742.5,732.5 741.2,732.9C739.8,733.2 737.9,733.4 736.7,733.2C735.5,732.9 735.2,731.5 733.9,731.5C732.7,731.6 730.8,733.4 729.3,733.5C727.8,733.5 726.3,731.7 724.9,731.7C723.5,731.7 722.2,733.6 721,733.5C719.9,733.5 719,731.5 717.8,731.4C716.7,731.3 715.6,732.3 714.4,732.8C713.2,733.3 711.6,733.7 710.5,734.5C709.4,735.4 708.6,736.5 707.7,737.7C706.8,739 705.8,740.5 705.1,742C704.4,743.6 703.8,745.5 703.4,746.9C703.1,748.4 703,749.7 703.3,750.8C703.6,752 705.3,752.6 705.3,753.9C705.4,755.1 703.6,757.3 703.5,758.6C703.4,759.9 705,760.7 705,761.7C704.9,762.8 702.9,763.6 703,765C703,766.4 705.1,768.3 705.1,770C705.1,771.6 703.1,773.5 703.1,774.8C703,776.1 704.5,776.6 704.8,777.7C705.2,778.9 705.3,780.2 705.2,781.6C705,783 703.9,784.8 703.9,786.1C703.8,787.4 704.5,788.1 705,789.3C705.5,790.5 706,792.2 707,793.2C707.9,794.1 709.7,794 710.8,795C712,796 712.8,798.6 714,799C715.2,799.4 716.8,797.5 718.3,797.5C719.7,797.4 721.4,798.7 722.6,798.7C723.8,798.8 724.4,797.8 725.6,797.8C726.8,797.8 728.6,798.7 729.9,798.9C731.1,799 731.9,798.8 733.1,798.7C734.3,798.5 735.7,797.6 737,797.7C738.3,797.9 739.7,799.4 741.1,799.4C742.4,799.4 743.8,797.7 745.1,797.7C746.4,797.7 747.7,799.4 748.9,799.3C750.1,799.2 750.9,797.1 752.3,797.1C753.7,797 755.9,798.9 757.4,798.9C758.8,799 759.9,797.5 761.1,797.2C762.3,796.9 763.5,797 764.8,797.3C766.1,797.6 767.5,799 768.7,799C769.9,799.1 770.7,797.5 771.9,797.4C773.1,797.3 774.4,798.6 775.7,798.6C777.1,798.6 778.8,797.6 780,797.4C781.2,797.2 781.6,797.2 783,797.4C784.4,797.6 787,798.5 788.6,798.7C790.2,799 791.3,799 792.4,798.7C793.4,798.4 793.6,797 794.8,797C796,797 798.2,798.8 799.6,798.8C801.1,798.9 802.3,797.4 803.5,797.4C804.7,797.4 805.6,798.8 806.9,798.9C808.3,798.9 810.4,797.9 811.7,797.7C812.9,797.4 813.4,797.5 814.5,797.4C815.5,797.3 816.5,796.8 818,797.1C819.4,797.4 821.9,799.2 823.3,799.2C824.7,799.2 824.9,797.2 826.2,797.2C827.5,797.2 829.9,799.3 831.1,799.4C832.3,799.5 832.4,798 833.4,798C834.5,797.9 836.2,799.3 837.6,799.3C839,799.3 840.3,797.8 841.7,797.9C843.1,797.9 844.7,799.6 846,799.5C847.4,799.4 848.6,797.5 849.9,797.4C851.1,797.3 852.3,798.8 853.5,799.1C854.8,799.4 856.2,799.3 857.4,799C858.7,798.7 859.9,797.3 861.1,797.3C862.3,797.3 863.1,799 864.4,798.9C865.6,798.9 867.4,797.1 868.7,796.9C869.9,796.8 871.4,797.8 872,798" fill="none" stroke="#9a9a9a" stroke-width="1.5"/>
<path d="M846.4,630C846.3,630.8 845.5,633.4 845.7,634.7C845.8,636 847,636.8 847.1,638C847.1,639.2 845.9,640.7 845.9,641.9C846,643.1 847.4,643.9 847.3,645.2C847.1,646.5 845.2,648.3 845.2,649.8C845.2,651.3 847,653.1 847.1,654.2C847.1,655.4 845.6,655.5 845.5,656.6C845.5,657.6 846.7,659 846.7,660.3C846.7,661.5 845.5,662.5 845.5,664.1C845.6,665.6 847,668.1 847,669.6C847,671 845.8,671.7 845.5,672.8C845.1,673.9 844.8,674.8 845,676.2C845.2,677.6 846.6,679.9 846.7,681.2C846.8,682.5 845.6,682.6 845.7,683.9C845.8,685.2 846.8,687.5 847,688.9C847.3,690.2 847.4,691 847,692C846.7,693.1 845,693.8 845,695.1C845,696.5 847,698.5 847.1,700C847.1,701.4 845.4,702.4 845.3,703.8C845.2,705.3 846.3,707.3 846.7,708.6C847,709.9 847.4,710.6 847.3,711.7C847.2,712.9 846.1,714.1 846.1,715.4C846,716.6 847,717.8 847.1,719.3C847.1,720.7 846.2,722.8 846.3,724.3C846.4,725.9 847.7,727.5 847.7,728.7C847.7,729.9 846.7,730.3 846.5,731.5C846.2,732.7 846.1,734.4 846.1,735.8C846.2,737.2 846.7,738.5 846.7,739.9C846.8,741.3 846.5,742.9 846.5,744.2C846.6,745.4 846.7,746.3 847,747.6C847.2,748.8 847.7,750.5 848.2,751.7C848.7,752.9 849.1,754.1 849.9,754.9C850.7,755.7 852,755.4 853,756.3C853.9,757.2 854.8,759.3 855.8,760.2C856.8,761 857.8,761 858.9,761.4C860,761.8 861.2,762.4 862.4,762.5C863.5,762.6 864.2,762 865.5,762.2C866.9,762.3 869,763.2 870.5,763.3C872,763.5 873.1,763.1 874.5,763C876,763 877.9,763.3 879.2,763C880.5,762.8 881.3,761.9 882.4,761.6C883.4,761.3 884,761.1 885.4,761.3C886.7,761.4 889.2,762.4 890.7,762.3C892.2,762.2 893,760.8 894.3,760.6C895.5,760.4 897.1,761.5 898.1,761.2C899.2,760.9 899.3,759.1 900.4,758.8C901.6,758.5 903.8,759.6 904.9,759.3C906.1,759 906.4,757.7 907.4,756.9C908.3,756.2 909.7,755.8 910.8,754.8C911.8,753.9 912.9,752.5 913.6,751.2C914.3,749.9 914.6,748.6 914.8,747.1C915.1,745.7 915.3,743.9 915.1,742.6C914.9,741.2 913.8,740 913.8,739C913.9,738 915.2,737.7 915.3,736.4C915.5,735.1 915,732.6 914.7,731.1C914.4,729.6 913.6,728.5 913.4,727.3C913.3,726.1 913.6,725.3 914,724C914.3,722.7 915.5,721.1 915.4,719.6C915.3,718.2 913.5,716.7 913.5,715.3C913.5,713.8 915,712.4 915.3,711C915.6,709.6 915.1,708.4 915.1,707.1C915.1,705.8 915.5,704.6 915.3,703.4C915,702.2 913.9,701.2 913.9,700C913.8,698.8 914.6,697.3 914.9,695.9C915.1,694.6 915.7,693.3 915.4,691.9C915.2,690.6 913.5,689.2 913.5,687.9C913.5,686.6 915.3,685.4 915.4,684.3C915.4,683.2 914.1,682.7 914,681.4C913.9,680.1 914.9,678 914.8,676.5C914.8,675 913.5,673.8 913.5,672.4C913.5,671 914.6,669.2 914.6,668.1C914.7,666.9 914,666.4 913.8,665.4C913.6,664.3 913.4,663.1 913.4,661.8C913.4,660.4 913.4,658.8 913.6,657.3C913.9,655.9 914.6,654.4 914.8,653C915.1,651.6 915.4,650 915.1,648.8C914.9,647.6 913.6,646.9 913.5,645.8C913.5,644.7 915.2,643.8 915.1,642.4C915,640.9 913,638.4 913,637.1C912.9,635.8 914.5,635.5 914.7,634.3C914.9,633.1 914.1,630.7 914,630Z" fill="#dcdcdc" stroke="#231815" stroke-width="1.5"/>
<path d="M770.4,721.6 Q786,668 838.8,661.6" fill="none" stroke="#e6005a" stroke-width="3.2"/>
<path d="M770.4,721.6 L767.5,703 L773.8,710.1 L782.8,707.5Z" fill="#e6005a"/>
<path d="M838.8,661.6 L822.9,671.6 L826.9,663 L821,655.7Z" fill="#e6005a"/>
<path d="M770.4,790 Q786,844 838.8,848.8" fill="none" stroke="#e6005a" stroke-width="3.2"/>
<path d="M770.4,790 L782.8,804.1 L773.7,801.5 L767.4,808.6Z" fill="#e6005a"/>
<path d="M838.8,848.8 L821.1,855.2 L826.8,847.7 L822.6,839.3Z" fill="#e6005a"/>
<rect x="874.6" y="788" width="5.6" height="112" fill="#fff" stroke="#231815" stroke-width="1.2"/>
<rect x="874" y="775.9" width="6.6" height="15" fill="#9d9d9d" stroke="#231815" stroke-width="1"/>
<rect x="885.4" y="762" width="7.2" height="18.7" fill="#9d9d9d" stroke="#231815" stroke-width="1.1"/>
<rect x="871.6" y="764.5" width="13.8" height="11.4" rx="3" fill="#9d9d9d" stroke="#231815" stroke-width="1.1"/>
<circle cx="877.6" cy="770.5" r="3.8" fill="#e50012"/>
<circle cx="877.6" cy="770.5" r="24" fill="none" stroke="#e6005a" stroke-width="2" stroke-dasharray="7 5"/>
</g>
<g clip-path="url(#c31)">
<g transform="translate(37.4,1042.8)"><circle r="13" fill="none" stroke="#231815" stroke-width="1.6"/><path d="M-4.8,-8.1 L2.4,-8.1 L2.4,8.7 L-1.5,8.7 L-1.5,-5.2 L-4.8,-5.2Z" fill="#231815"/></g>
<path d="M163.3,1017C162.9,1018.4 161.5,1023 161,1025.6C160.5,1028.2 159.8,1030.6 160.5,1032.4C161.1,1034.1 163.1,1035.4 164.8,1036.3C166.5,1037.2 169.1,1036.6 170.5,1037.8C171.9,1039 172.1,1042.1 173.3,1043.5C174.4,1044.9 176,1045 177.5,1046.2C179,1047.5 180.9,1048.9 182.4,1051C183.9,1053.1 185,1057.4 186.5,1058.9C188.1,1060.5 189.7,1060.1 191.8,1060.2C193.8,1060.3 196.2,1060 198.6,1059.5C201.1,1059 204.2,1057.5 206.5,1057.2C208.8,1056.8 209.8,1057.2 212.2,1057.5C214.6,1057.8 218.4,1059 220.8,1059C223.2,1058.9 224.2,1057.1 226.5,1057.1C228.9,1057.2 232.4,1059 234.8,1059.2C237.2,1059.5 238.4,1059.2 240.9,1058.6C243.3,1058 247,1055.9 249.7,1055.5C252.3,1055.2 254.6,1056.4 256.8,1056.3C259,1056.3 260.7,1055 262.8,1055.3C264.9,1055.6 267.6,1057.6 269.4,1058.2C271.2,1058.7 272.3,1058 273.9,1058.5C275.5,1058.9 277.3,1060.7 279.2,1060.9C281,1061.1 282.7,1060.7 285,1059.8C287.3,1058.9 291,1056.9 293.1,1055.5C295.3,1054.1 296.1,1052 297.9,1051.2C299.6,1050.3 301.6,1051.2 303.5,1050.4C305.4,1049.5 307.4,1046.8 309.2,1046C311,1045.2 312.7,1046.4 314.4,1045.7C316.2,1045 317.9,1042.7 319.8,1041.7C321.7,1040.7 325,1040.2 326,1039.9L330,1010 L160,1010Z" fill="#dcdcdc"/>
<path d="M183.2,1058C183.2,1059 182.9,1061.3 183.3,1063.8C183.8,1066.4 185.7,1070.4 185.8,1073.3C185.9,1076.1 184.5,1078.2 183.9,1080.9C183.3,1083.6 182.2,1086.7 182.2,1089.6C182.3,1092.5 183.6,1095.4 184.3,1098.2C184.9,1101 185.7,1104.1 185.9,1106.4C186,1108.7 185.8,1109.7 185.3,1111.9C184.8,1114.2 183,1117.4 182.7,1119.9C182.5,1122.5 183,1125 184,1127.1C185,1129.2 187.5,1130.6 188.8,1132.3C190.2,1134.1 190.9,1136.1 192.1,1137.6C193.3,1139.2 194.6,1140.2 196.1,1141.7C197.6,1143.1 199.6,1145.1 201,1146.3C202.3,1147.5 202.5,1147.9 204,1148.9C205.5,1150 207.5,1151.3 209.9,1152.4C212.2,1153.5 215.3,1155.1 218,1155.6C220.7,1156.1 223.6,1155.2 226.3,1155.3C229,1155.4 231.6,1156.6 234.1,1156.2C236.6,1155.9 238.6,1153.7 241.3,1153.3C243.9,1152.9 247.4,1154.2 250.1,1153.9C252.8,1153.5 254.9,1151.4 257.4,1151.2C259.9,1150.9 262.6,1152.7 265,1152.4C267.3,1152.2 269.1,1150.4 271.5,1149.7C274,1149.1 277.2,1148.1 279.8,1148.4C282.3,1148.7 284,1150.9 286.6,1151.6C289.3,1152.2 293,1151.7 295.5,1152.3C298,1152.9 299.6,1155.2 301.4,1155C303.2,1154.7 304.4,1152 306.3,1151C308.2,1150 310.7,1149.8 312.9,1148.8C315.2,1147.8 317.4,1145.8 319.6,1145.1C321.8,1144.4 324.9,1144.6 326,1144.5L330,1035 L185,1035Z" fill="#dcdcdc"/>
<path d="M163.3,1017C162.9,1018.4 161.5,1023 161,1025.6C160.5,1028.2 159.8,1030.6 160.5,1032.4C161.1,1034.1 163.1,1035.4 164.8,1036.3C166.5,1037.2 169.1,1036.6 170.5,1037.8C171.9,1039 172.1,1042.1 173.3,1043.5C174.4,1044.9 176,1045 177.5,1046.2C179,1047.5 180.9,1048.9 182.4,1051C183.9,1053.1 185,1057.4 186.5,1058.9C188.1,1060.5 189.7,1060.1 191.8,1060.2C193.8,1060.3 196.2,1060 198.6,1059.5C201.1,1059 204.2,1057.5 206.5,1057.2C208.8,1056.8 209.8,1057.2 212.2,1057.5C214.6,1057.8 218.4,1059 220.8,1059C223.2,1058.9 224.2,1057.1 226.5,1057.1C228.9,1057.2 232.4,1059 234.8,1059.2C237.2,1059.5 238.4,1059.2 240.9,1058.6C243.3,1058 247,1055.9 249.7,1055.5C252.3,1055.2 254.6,1056.4 256.8,1056.3C259,1056.3 260.7,1055 262.8,1055.3C264.9,1055.6 267.6,1057.6 269.4,1058.2C271.2,1058.7 272.3,1058 273.9,1058.5C275.5,1058.9 277.3,1060.7 279.2,1060.9C281,1061.1 282.7,1060.7 285,1059.8C287.3,1058.9 291,1056.9 293.1,1055.5C295.3,1054.1 296.1,1052 297.9,1051.2C299.6,1050.3 301.6,1051.2 303.5,1050.4C305.4,1049.5 307.4,1046.8 309.2,1046C311,1045.2 312.7,1046.4 314.4,1045.7C316.2,1045 317.9,1042.7 319.8,1041.7C321.7,1040.7 325,1040.2 326,1039.9" fill="none" stroke="#231815" stroke-width="1.7"/>
<path d="M183.2,1058C183.2,1059 182.9,1061.3 183.3,1063.8C183.8,1066.4 185.7,1070.4 185.8,1073.3C185.9,1076.1 184.5,1078.2 183.9,1080.9C183.3,1083.6 182.2,1086.7 182.2,1089.6C182.3,1092.5 183.6,1095.4 184.3,1098.2C184.9,1101 185.7,1104.1 185.9,1106.4C186,1108.7 185.8,1109.7 185.3,1111.9C184.8,1114.2 183,1117.4 182.7,1119.9C182.5,1122.5 183,1125 184,1127.1C185,1129.2 187.5,1130.6 188.8,1132.3C190.2,1134.1 190.9,1136.1 192.1,1137.6C193.3,1139.2 194.6,1140.2 196.1,1141.7C197.6,1143.1 199.6,1145.1 201,1146.3C202.3,1147.5 202.5,1147.9 204,1148.9C205.5,1150 207.5,1151.3 209.9,1152.4C212.2,1153.5 215.3,1155.1 218,1155.6C220.7,1156.1 223.6,1155.2 226.3,1155.3C229,1155.4 231.6,1156.6 234.1,1156.2C236.6,1155.9 238.6,1153.7 241.3,1153.3C243.9,1152.9 247.4,1154.2 250.1,1153.9C252.8,1153.5 254.9,1151.4 257.4,1151.2C259.9,1150.9 262.6,1152.7 265,1152.4C267.3,1152.2 269.1,1150.4 271.5,1149.7C274,1149.1 277.2,1148.1 279.8,1148.4C282.3,1148.7 284,1150.9 286.6,1151.6C289.3,1152.2 293,1151.7 295.5,1152.3C298,1152.9 299.6,1155.2 301.4,1155C303.2,1154.7 304.4,1152 306.3,1151C308.2,1150 310.7,1149.8 312.9,1148.8C315.2,1147.8 317.4,1145.8 319.6,1145.1C321.8,1144.4 324.9,1144.6 326,1144.5" fill="none" stroke="#231815" stroke-width="1.7"/>
<path d="M232.2,1041.6 H255 V1046.9 H251.3 V1114.6 L255,1114.6 L252.5,1123.7 H246.3 V1093 H241.7 V1123.7 H234.7 L232.2,1114.6 H236.7 V1046.9 H232.2Z" fill="#4d4a4a" stroke="#231815" stroke-width="1.3"/>
<rect x="254.6" y="1137.5" width="22.9" height="4.5" fill="#555152" stroke="#231815" stroke-width="1"/>
<path d="M227.7,1142 H236.4 V1146 H249.6 V1142 H280.4 V1210 H249.6 V1206 H236.4 V1210 H227.7Z" fill="#9f9f9f" stroke="#231815" stroke-width="1.4"/>
<rect x="259" y="1142" width="14" height="4" fill="#555152"/>
<rect x="243.3" y="1210" width="22.9" height="33.3" fill="#9f9f9f" stroke="#231815" stroke-width="1.3"/>
<path d="M255.5,1206.5 h8 v14 h-6 l-2,-4z M268,1206.5 h8 l-2,11 h-6z" fill="#555152" stroke="#231815" stroke-width="1"/>
<path d="M246.7,1243.3 V1284 M262.1,1243.3 V1284" stroke="#231815" stroke-width="1.4"/>
<path d="M208.1,1191.8 V1092" stroke="#e6005a" stroke-width="3" stroke-linecap="round"/>
<path d="M208.1,1063.1 L222.7,1097.2 L208.1,1090.5 L194,1097.2Z" fill="#e6005a"/>
<rect x="27.6" y="1062.8" width="138.2" height="201.6" fill="#fff" stroke="#1d2a5c" stroke-width="2"/>
<path d="M166,1197.6 L219.8,1205.9 L166,1213.4Z" fill="#1d2a5c"/>
<text x="96" y="1090.5" font-size="19" text-anchor="middle" fill="#231815">ロック</text>
<rect x="44.5" y="1099.6" width="100" height="51.4" rx="13" fill="#9d9d9d" stroke="#231815" stroke-width="1.3"/>
<path d="M58.2,1100.2 V1150.4" stroke="#231815" stroke-width="1.1"/>
<path d="M84.4,1100.2 V1150.4" stroke="#231815" stroke-width="1.1"/>
<path d="M104.7,1100.2 V1150.4" stroke="#231815" stroke-width="1.1"/>
<path d="M131.5,1100.2 V1150.4" stroke="#231815" stroke-width="1.1"/>
<g transform="translate(71.3,1125.3) rotate(90)"><circle r="16.7" fill="#555152" stroke="#231815" stroke-width="1.2"/><path d="M-13,-10.5 H-2.2 M2.2,-10.5 H13 M-13,10.5 H-2.2 M2.2,10.5 H13" stroke="#231815" stroke-width="1"/><path d="M-2.2,-16.6 H2.2 V16.6 H-2.2Z" fill="#9d9d9d" stroke="#231815" stroke-width="0.9"/><circle r="8" fill="#9d9d9d" stroke="#231815" stroke-width="1"/><path d="M-1.4,-16 V16 M1.4,-16 V16" stroke="#9d9d9d" stroke-width="1.8"/></g>
<g transform="translate(118.4,1125.3) rotate(90)"><circle r="16.7" fill="#555152" stroke="#231815" stroke-width="1.2"/><path d="M-13,-10.5 H-2.2 M2.2,-10.5 H13 M-13,10.5 H-2.2 M2.2,10.5 H13" stroke="#231815" stroke-width="1"/><path d="M-2.2,-16.6 H2.2 V16.6 H-2.2Z" fill="#9d9d9d" stroke="#231815" stroke-width="0.9"/><circle r="8" fill="#9d9d9d" stroke="#231815" stroke-width="1"/><path d="M-1.4,-16 V16 M1.4,-16 V16" stroke="#9d9d9d" stroke-width="1.8"/></g>
<path d="M85.3,1158.5 H107 L96.2,1170Z" fill="#1d2a5c"/>
<rect x="44.5" y="1182.8" width="100" height="51.4" rx="13" fill="#9d9d9d" stroke="#231815" stroke-width="1.3"/>
<path d="M58.2,1183.4 V1233.6" stroke="#231815" stroke-width="1.1"/>
<path d="M84.4,1183.4 V1233.6" stroke="#231815" stroke-width="1.1"/>
<path d="M104.7,1183.4 V1233.6" stroke="#231815" stroke-width="1.1"/>
<path d="M131.5,1183.4 V1233.6" stroke="#231815" stroke-width="1.1"/>
<g transform="translate(71.3,1208.5) rotate(0)"><circle r="16.7" fill="#555152" stroke="#231815" stroke-width="1.2"/><path d="M-13,-10.5 H-2.2 M2.2,-10.5 H13 M-13,10.5 H-2.2 M2.2,10.5 H13" stroke="#231815" stroke-width="1"/><path d="M-2.2,-16.6 H2.2 V16.6 H-2.2Z" fill="#9d9d9d" stroke="#231815" stroke-width="0.9"/><circle r="8" fill="#9d9d9d" stroke="#231815" stroke-width="1"/><path d="M-1.4,-16 V16 M1.4,-16 V16" stroke="#9d9d9d" stroke-width="1.8"/></g>
<g transform="translate(118.4,1208.5) rotate(90)"><circle r="16.7" fill="#555152" stroke="#231815" stroke-width="1.2"/><path d="M-13,-10.5 H-2.2 M2.2,-10.5 H13 M-13,10.5 H-2.2 M2.2,10.5 H13" stroke="#231815" stroke-width="1"/><path d="M-2.2,-16.6 H2.2 V16.6 H-2.2Z" fill="#9d9d9d" stroke="#231815" stroke-width="0.9"/><circle r="8" fill="#9d9d9d" stroke="#231815" stroke-width="1"/><path d="M-1.4,-16 V16 M1.4,-16 V16" stroke="#9d9d9d" stroke-width="1.8"/></g>
<path d="M65.5,1177 Q93.5,1176.5 94,1198" fill="none" stroke="#e6005a" stroke-width="2.4"/>
<path d="M86.5,1195 L93.7,1199.5 L100,1195.5 L91.9,1210.5Z" fill="#e6005a"/>
<text x="96" y="1255" font-size="19" text-anchor="middle" fill="#231815">ロック解除</text>
</g>
<g clip-path="url(#c32)">
<g transform="translate(362.2,1042.6)"><circle r="13" fill="none" stroke="#231815" stroke-width="1.6"/><path d="M-4.6,-5.2 C-3.7,-7.2 -1.9,-8.1 0.3,-8.1 C3.3,-8.1 5.1,-6.4 5.1,-3.9 C5.1,-1.9 3.8,-0.4 1.8,1.6 L-3.6,6.6" fill="none" stroke="#231815" stroke-width="2.5"/><path d="M-5.2,5.6 L-2.6,5.6 L-2.6,5.9 H5.8 V8.3 H-5.2Z" fill="#231815"/></g>
<path d="M508.7,1017C508.3,1018.4 506,1023.4 506.1,1025.6C506.3,1027.7 508.7,1027.9 509.6,1029.9C510.5,1031.8 511.3,1034.7 511.6,1037C512,1039.4 511.9,1041.8 511.6,1043.8C511.3,1045.8 509.8,1047.1 509.7,1049.1C509.5,1051 510.2,1053.4 510.8,1055.6C511.3,1057.7 511.6,1059.4 512.9,1061.8C514.2,1064.2 516.7,1067.9 518.5,1069.8C520.4,1071.6 522.5,1071.3 523.9,1072.7C525.2,1074.2 525.1,1076.8 526.7,1078.4C528.3,1080 531.6,1080.5 533.4,1082.3C535.3,1084.1 535.9,1088 537.7,1089.1C539.5,1090.3 541.7,1088.8 544.2,1089.3C546.8,1089.9 550.2,1092.3 553,1092.5C555.8,1092.6 558.5,1090.5 560.9,1090.2C563.3,1089.9 565.4,1090.8 567.5,1090.7C569.6,1090.5 571.6,1089.4 573.7,1089.2C575.8,1089 577.9,1089.9 580.1,1089.6C582.2,1089.3 583.9,1087.9 586.4,1087.3C588.9,1086.8 592.6,1086.3 595.1,1086.4C597.6,1086.4 599.5,1087.6 601.5,1087.5C603.6,1087.3 605,1085.5 607.4,1085.6C609.7,1085.7 613.1,1087.3 615.6,1087.8C618.1,1088.4 619.8,1088.5 622.3,1088.9C624.9,1089.3 627.9,1090.9 630.8,1090.3C633.8,1089.8 637.4,1087 640,1085.8C642.6,1084.5 644.4,1083.6 646.4,1082.8C648.4,1081.9 650,1081.7 652,1080.9C653.9,1080.1 657,1078.4 658,1077.9L660,1010 L505,1010Z" fill="#dcdcdc"/>
<path d="M508.7,1017C508.3,1018.4 506,1023.4 506.1,1025.6C506.3,1027.7 508.7,1027.9 509.6,1029.9C510.5,1031.8 511.3,1034.7 511.6,1037C512,1039.4 511.9,1041.8 511.6,1043.8C511.3,1045.8 509.8,1047.1 509.7,1049.1C509.5,1051 510.2,1053.4 510.8,1055.6C511.3,1057.7 511.6,1059.4 512.9,1061.8C514.2,1064.2 516.7,1067.9 518.5,1069.8C520.4,1071.6 522.5,1071.3 523.9,1072.7C525.2,1074.2 525.1,1076.8 526.7,1078.4C528.3,1080 531.6,1080.5 533.4,1082.3C535.3,1084.1 535.9,1088 537.7,1089.1C539.5,1090.3 541.7,1088.8 544.2,1089.3C546.8,1089.9 550.2,1092.3 553,1092.5C555.8,1092.6 558.5,1090.5 560.9,1090.2C563.3,1089.9 565.4,1090.8 567.5,1090.7C569.6,1090.5 571.6,1089.4 573.7,1089.2C575.8,1089 577.9,1089.9 580.1,1089.6C582.2,1089.3 583.9,1087.9 586.4,1087.3C588.9,1086.8 592.6,1086.3 595.1,1086.4C597.6,1086.4 599.5,1087.6 601.5,1087.5C603.6,1087.3 605,1085.5 607.4,1085.6C609.7,1085.7 613.1,1087.3 615.6,1087.8C618.1,1088.4 619.8,1088.5 622.3,1088.9C624.9,1089.3 627.9,1090.9 630.8,1090.3C633.8,1089.8 637.4,1087 640,1085.8C642.6,1084.5 644.4,1083.6 646.4,1082.8C648.4,1081.9 650,1081.7 652,1080.9C653.9,1080.1 657,1078.4 658,1077.9" fill="none" stroke="#231815" stroke-width="1.7"/>
<path d="M484,1284C484.1,1282.9 483.8,1279.8 484.4,1277.2C485,1274.7 486.9,1271.1 487.6,1268.7C488.3,1266.2 487.9,1264.6 488.7,1262.4C489.5,1260.2 491.6,1257.2 492.3,1255.4C493,1253.7 492.1,1253.3 492.9,1251.9C493.8,1250.5 496,1248.9 497.3,1246.9C498.7,1245 499.5,1242.2 500.8,1240.4C502.1,1238.5 502.9,1237.3 505,1235.8C507.2,1234.2 511.9,1232.5 513.8,1231.3C515.7,1230 514.7,1229.6 516.4,1228.5C518.1,1227.4 521,1225.6 524,1224.6C527.1,1223.6 532,1221.7 534.8,1222.3C537.6,1223 538.8,1227.8 541,1228.5C543.2,1229.3 545.9,1226.9 548.1,1226.8C550.4,1226.8 552.5,1228.3 554.5,1228.4C556.5,1228.5 558.1,1227.7 560,1227.4C561.9,1227.2 564.1,1226.8 566,1227C567.8,1227.1 569.2,1228.5 571.3,1228.5C573.4,1228.4 576.4,1226.7 578.7,1226.6C581.1,1226.5 583.3,1227.9 585.4,1227.6C587.4,1227.3 588.8,1225.4 591.2,1224.9C593.6,1224.4 597,1224.7 599.9,1224.4C602.9,1224.1 605.8,1223.7 608.9,1223.3C612,1223 615.8,1222.3 618.5,1222.3C621.2,1222.3 623.5,1222.5 625,1223.6C626.5,1224.6 626.2,1227.4 627.3,1228.7C628.4,1230.1 630.5,1230.8 631.8,1231.9C633.1,1233.1 634.1,1234 635.3,1235.6C636.5,1237.3 637.2,1240.3 638.9,1241.9C640.6,1243.5 643.7,1243.9 645.4,1245.2C647.2,1246.5 648.3,1247.7 649.4,1249.7C650.5,1251.6 651.8,1254.8 652,1256.7C652.2,1258.7 651.2,1259.1 650.9,1261.5C650.6,1263.8 650,1268.4 650.1,1270.7C650.1,1272.9 651,1272.8 651,1275C650.9,1277.2 650,1282.5 649.8,1284L660,1290 L484,1290Z" fill="#dcdcdc"/>
<path d="M484,1284C484.1,1282.9 483.8,1279.8 484.4,1277.2C485,1274.7 486.9,1271.1 487.6,1268.7C488.3,1266.2 487.9,1264.6 488.7,1262.4C489.5,1260.2 491.6,1257.2 492.3,1255.4C493,1253.7 492.1,1253.3 492.9,1251.9C493.8,1250.5 496,1248.9 497.3,1246.9C498.7,1245 499.5,1242.2 500.8,1240.4C502.1,1238.5 502.9,1237.3 505,1235.8C507.2,1234.2 511.9,1232.5 513.8,1231.3C515.7,1230 514.7,1229.6 516.4,1228.5C518.1,1227.4 521,1225.6 524,1224.6C527.1,1223.6 532,1221.7 534.8,1222.3C537.6,1223 538.8,1227.8 541,1228.5C543.2,1229.3 545.9,1226.9 548.1,1226.8C550.4,1226.8 552.5,1228.3 554.5,1228.4C556.5,1228.5 558.1,1227.7 560,1227.4C561.9,1227.2 564.1,1226.8 566,1227C567.8,1227.1 569.2,1228.5 571.3,1228.5C573.4,1228.4 576.4,1226.7 578.7,1226.6C581.1,1226.5 583.3,1227.9 585.4,1227.6C587.4,1227.3 588.8,1225.4 591.2,1224.9C593.6,1224.4 597,1224.7 599.9,1224.4C602.9,1224.1 605.8,1223.7 608.9,1223.3C612,1223 615.8,1222.3 618.5,1222.3C621.2,1222.3 623.5,1222.5 625,1223.6C626.5,1224.6 626.2,1227.4 627.3,1228.7C628.4,1230.1 630.5,1230.8 631.8,1231.9C633.1,1233.1 634.1,1234 635.3,1235.6C636.5,1237.3 637.2,1240.3 638.9,1241.9C640.6,1243.5 643.7,1243.9 645.4,1245.2C647.2,1246.5 648.3,1247.7 649.4,1249.7C650.5,1251.6 651.8,1254.8 652,1256.7C652.2,1258.7 651.2,1259.1 650.9,1261.5C650.6,1263.8 650,1268.4 650.1,1270.7C650.1,1272.9 651,1272.8 651,1275C650.9,1277.2 650,1282.5 649.8,1284" fill="none" stroke="#231815" stroke-width="1.7"/>
<path d="M569.9,1177 V1230 M588.6,1177 V1230" stroke="#231815" stroke-width="1.4"/>
<rect x="581" y="1071" width="22.6" height="5.2" fill="#555152" stroke="#231815" stroke-width="1"/>
<path d="M553.8,1076.2 H562.3 V1080.5 H575.9 V1076.2 H607 V1144.2 H575.9 V1140 H562.3 V1144.2 H553.8Z" fill="#9f9f9f" stroke="#231815" stroke-width="1.4"/>
<rect x="584.5" y="1076.2" width="14" height="3.5" fill="#555152"/>
<rect x="569.9" y="1144.2" width="22.6" height="33.2" fill="#9f9f9f" stroke="#231815" stroke-width="1.3"/>
<path d="M581.8,1140.8 h8.5 v10.2 h-6.5 l-2,-4z M593.7,1140.8 h8.5 l-2,10.2 h-6.5z" fill="#555152" stroke="#231815" stroke-width="1"/>
<path d="M558,1238.6 H580.1 V1242.8 H558Z M562.3,1238.6 V1170.6 H558 L560,1162.9 H567.4 V1192.7 H571.3 V1162.9 H578 L580.1,1170.6 H576.7 V1238.6Z" fill="#9f9f9f" stroke="#231815" stroke-width="1.3"/>
<path d="M530.8,1249.6 V1132" stroke="#e6005a" stroke-width="3" stroke-linecap="round"/>
<path d="M530.8,1106 L545.3,1140 L530.8,1132.3 L517.2,1140Z" fill="#e6005a"/>
<rect x="362.5" y="1063.2" width="138.7" height="200.3" fill="#fff" stroke="#1d2a5c" stroke-width="2"/>
<path d="M501,1076.2 L546.1,1083.9 L501,1091.5Z" fill="#1d2a5c"/>
<text x="431.5" y="1091" font-size="19" text-anchor="middle" fill="#231815">ロック解除</text>
<path d="M376,1096.2 H428 L426,1104 L430,1115 L426.5,1130 L430,1142 L428.5,1152.5 H376Z" fill="#dadada"/>
<path d="M427,1099.2 H467 A13.2,13.2 0 0 1 480.2,1112.4 V1137 A13.2,13.2 0 0 1 467,1150.2 H429.5 L430,1142 L426.5,1130 L430,1115 L426,1104Z" fill="#9d9d9d" stroke="#231815" stroke-width="1.3"/>
<path d="M441.2,1099.8 V1149.6 M466.7,1099.8 V1149.6" stroke="#231815" stroke-width="1.1"/>
<g transform="translate(454.7,1124.5)"><circle r="16.5" fill="#555152" stroke="#231815" stroke-width="1.2"/><path d="M-2.2,-16.4 H2.2 V16.4 H-2.2Z" fill="#9d9d9d" stroke="#231815" stroke-width="0.9"/><circle r="8" fill="#9d9d9d" stroke="#231815" stroke-width="1"/><path d="M-1.4,-16 V16 M1.4,-16 V16" stroke="#9d9d9d" stroke-width="1.8"/></g>
<path d="M420.2,1157.7 H443.5 L431.8,1169.7Z" fill="#1d2a5c"/>
<path d="M376,1177.2 H428 L426,1185 L430,1197 L426.5,1212 L430,1224 L428.5,1235.7 H376Z" fill="#dadada"/>
<path d="M427,1181.7 H467 A13.2,13.2 0 0 1 480.2,1194.9 V1220.3 A13.2,13.2 0 0 1 467,1233.5 H429.5 L430,1224 L426.5,1212 L430,1197 L426,1185Z" fill="#9d9d9d" stroke="#231815" stroke-width="1.3"/>
<path d="M441.2,1182.3 V1232.9 M466.7,1182.3 V1232.9" stroke="#231815" stroke-width="1.1"/>
<g transform="translate(454.7,1207.6) rotate(90)"><circle r="16.5" fill="#555152" stroke="#231815" stroke-width="1.2"/><path d="M-2.2,-16.4 H2.2 V16.4 H-2.2Z" fill="#9d9d9d" stroke="#231815" stroke-width="0.9"/><circle r="8" fill="#9d9d9d" stroke="#231815" stroke-width="1"/><path d="M-1.4,-16 V16 M1.4,-16 V16" stroke="#9d9d9d" stroke-width="1.8"/></g>
<path d="M448,1175.7 Q475,1175 476,1199" fill="none" stroke="#e6005a" stroke-width="2.4"/>
<path d="M468.5,1196 L475.8,1200.5 L482,1196.5 L475.7,1211Z" fill="#e6005a"/>
<text x="431.5" y="1253" font-size="19" text-anchor="middle" fill="#231815">ロック</text>
</g>
<g clip-path="url(#c33)">
<g transform="translate(697.6,1042.6)"><circle r="13" fill="none" stroke="#231815" stroke-width="1.6"/><path d="M-5.1,-7.1 H4.4 L-0.8,-1.2 C3.4,-1.6 5.4,0.9 5.4,3.4 C5.4,6.9 2.4,8.3 -0.1,8.3 C-2.6,8.3 -4.1,7.6 -5.3,6.6" fill="none" stroke="#231815" stroke-width="2.5" stroke-linejoin="miter"/></g>
<path d="M690,1087.1C691,1086.7 691.9,1086.6 693.2,1086.8C694.6,1087 696.7,1088.2 698.2,1088.2C699.6,1088.1 700.8,1086.8 702.1,1086.6C703.4,1086.3 704.8,1086.5 705.9,1086.8C707,1087.1 707.6,1088.4 708.8,1088.3C709.9,1088.3 711.4,1086.7 712.7,1086.6C713.9,1086.5 714.8,1087.5 716.4,1087.7C717.9,1087.9 720.3,1088 721.8,1087.8C723.3,1087.7 724.2,1086.8 725.4,1086.9C726.7,1086.9 727.9,1088.2 729.2,1088.3C730.5,1088.4 732,1087.9 733.1,1087.6C734.3,1087.3 735.2,1086.6 736.3,1086.4C737.4,1086.2 738.6,1085.9 739.9,1086.2C741.2,1086.5 742.7,1087.9 744.1,1088C745.4,1088 746.8,1086.5 748.1,1086.4C749.5,1086.3 750.7,1087.5 752,1087.5C753.3,1087.5 754.7,1086.3 756,1086.4C757.4,1086.4 758.5,1087.7 760,1087.7C761.4,1087.8 763.5,1086.5 764.7,1086.5C765.9,1086.4 765.8,1087.2 767.1,1087.4C768.4,1087.7 771.2,1088.2 772.5,1088C773.8,1087.9 773.6,1086.7 775,1086.7C776.3,1086.7 778.9,1088.2 780.4,1088.1C781.9,1088.1 782.5,1086.3 783.8,1086.3C785.1,1086.3 787,1087.9 788.4,1088C789.7,1088 790.7,1086.9 791.9,1086.7C793,1086.5 794.1,1086.6 795.3,1086.8C796.4,1087.1 797.3,1088 798.7,1088C800.2,1087.9 802.6,1086.7 804,1086.4C805.4,1086.2 805.7,1086.3 806.9,1086.6C808.2,1086.9 810.1,1087.9 811.5,1088C812.9,1088.1 814.4,1086.8 815.3,1087.3C816.3,1087.7 816.3,1089.8 817.1,1090.6C817.9,1091.4 819.4,1091.5 820,1092.2C820.7,1093 820.8,1094 820.9,1095C821.1,1096 820.7,1097 821,1098.5C821.3,1100 822.2,1102.4 822.5,1104.1C822.8,1105.9 823.1,1107.8 822.8,1109C822.5,1110.2 820.8,1110 820.7,1111.3C820.7,1112.6 822.6,1115.4 822.6,1117C822.7,1118.5 821.6,1119.2 821.1,1120.4C820.6,1121.7 820.5,1123.6 819.8,1124.4C819,1125.3 817.3,1125.2 816.5,1125.8C815.7,1126.3 815.8,1127.1 815,1127.8C814.2,1128.4 812.8,1129.5 811.5,1129.8C810.1,1130.1 808.2,1130.1 806.9,1129.8C805.6,1129.6 805,1128.4 803.6,1128.3C802.3,1128.2 800.1,1129.4 798.7,1129.4C797.3,1129.4 796.5,1128.4 795.4,1128.4C794.2,1128.3 793.4,1129 792.1,1129.3C790.7,1129.5 788.8,1129.8 787.5,1129.9C786.2,1130 785.8,1130.1 784.5,1129.8C783.1,1129.5 780.6,1128.3 779.2,1128C777.9,1127.8 777.5,1128 776.3,1128.4C775.1,1128.7 773.4,1129.7 772.1,1130C770.7,1130.2 769.6,1130 768.4,1129.7C767.2,1129.4 766,1128.2 764.6,1128.2C763.2,1128.3 761.3,1130 760,1130C758.7,1129.9 757.9,1128.2 756.6,1128.1C755.2,1128 753.2,1129.4 751.8,1129.4C750.4,1129.5 749.5,1128 748.3,1128.1C747.1,1128.2 745.6,1129.8 744.5,1129.8C743.3,1129.9 742.5,1128.6 741.2,1128.2C739.8,1127.9 737.6,1127.8 736.2,1127.9C734.8,1128.1 734.1,1129.3 732.9,1129.3C731.7,1129.3 730.6,1127.9 729.1,1127.9C727.6,1128 725.3,1129.7 724,1129.8C722.7,1129.9 722.5,1128.5 721.4,1128.5C720.3,1128.5 718.7,1129.9 717.5,1129.9C716.2,1129.9 715.4,1128.5 714,1128.5C712.5,1128.5 710.1,1129.7 708.8,1129.9C707.4,1130 707.2,1129.3 705.9,1129.3C704.6,1129.3 702.3,1129.7 700.9,1129.8C699.5,1129.9 698.7,1130.2 697.4,1129.9C696.1,1129.5 694.3,1127.9 693,1127.8C691.7,1127.7 690.5,1129.3 689.6,1129.2C688.6,1129.1 688.3,1128 687.5,1127.1C686.7,1126.2 685.4,1125 684.8,1124C684.2,1123 684.3,1122.2 683.9,1121C683.4,1119.8 682.1,1118.2 682.1,1116.6C682.2,1115 683.9,1113 684,1111.5C684,1109.9 682.6,1108.8 682.5,1107.5C682.4,1106.1 683.5,1104.8 683.5,1103.3C683.5,1101.8 682.8,1100.1 682.6,1098.6C682.4,1097.1 681.7,1095.1 682.2,1094.2C682.7,1093.4 684.8,1094.1 685.7,1093.3C686.5,1092.4 686.6,1090.2 687.4,1089.2C688.1,1088.2 689,1087.5 690,1087.1Z" fill="#dcdcdc" stroke="#231815" stroke-width="1.5"/>
<path d="M845,1087.3C845.8,1087 847.1,1088.4 848.5,1088.5C849.9,1088.6 851.9,1088.2 853.2,1087.9C854.6,1087.7 855.4,1087 856.7,1087C857.9,1087 859.4,1088 860.8,1088C862.2,1087.9 863.7,1087.1 865,1086.9C866.4,1086.8 867.5,1086.9 868.9,1087.1C870.2,1087.2 872.1,1087.8 873.2,1088C874.4,1088.1 874.8,1088.2 875.9,1087.9C877,1087.7 878.3,1086.6 879.7,1086.3C881.2,1086.1 883.2,1086.3 884.7,1086.4C886.1,1086.4 887.2,1086.6 888.5,1086.6C889.8,1086.6 891,1086.2 892.5,1086.4C893.9,1086.7 895.9,1088 897,1088.1C898.2,1088.1 898.3,1086.7 899.4,1086.6C900.4,1086.5 902,1087.6 903.4,1087.5C904.8,1087.5 906.3,1086.5 907.7,1086.5C909.1,1086.5 910.3,1087.6 911.9,1087.6C913.4,1087.6 915.6,1086.2 916.9,1086.2C918.3,1086.3 918.9,1087.9 920,1087.9C921.1,1087.8 921.9,1085.9 923.3,1085.9C924.6,1086 926.6,1087.8 928.1,1088C929.6,1088.1 931.3,1086.7 932.4,1086.6C933.6,1086.6 933.7,1087.4 934.8,1087.7C935.9,1088 937.6,1088.4 939,1088.2C940.4,1088.1 941.6,1086.7 943.2,1086.6C944.7,1086.6 947,1087.8 948.3,1087.9C949.6,1087.9 949.7,1087 950.9,1086.8C952.1,1086.6 954.2,1086.8 955.5,1086.8C956.8,1086.8 957.5,1086.5 958.7,1086.7C959.8,1086.9 960.9,1087.9 962.3,1087.9C963.8,1087.9 966,1086.9 967.3,1086.9C968.7,1086.9 969.3,1087.5 970.6,1088C971.8,1088.5 974,1089 974.9,1089.9C975.8,1090.8 975.1,1092.8 975.8,1093.6C976.6,1094.5 978.9,1094.1 979.2,1095C979.6,1095.9 978,1097.4 978.1,1098.8C978.1,1100.2 979.6,1101.9 979.6,1103.5C979.5,1105.2 978.1,1107.5 977.8,1108.8C977.4,1110.2 977.2,1110.4 977.5,1111.6C977.8,1112.9 979.2,1114.8 979.3,1116.2C979.4,1117.7 978.3,1119 977.8,1120.4C977.4,1121.7 977.1,1123.3 976.5,1124.2C975.8,1125 974.8,1124.7 973.9,1125.3C973,1125.9 972.2,1127.1 971,1127.8C969.8,1128.4 967.9,1129 966.4,1129.2C965,1129.4 963.6,1129.4 962.4,1129.2C961.2,1129 960.5,1127.9 959.3,1127.9C958,1128 956.1,1129.6 954.8,1129.6C953.5,1129.6 952.5,1127.9 951.3,1127.9C950.1,1127.9 949,1129.6 947.6,1129.6C946.2,1129.7 944.6,1128.3 943.1,1128.3C941.6,1128.3 939.9,1129.6 938.6,1129.6C937.4,1129.6 936.7,1128.5 935.7,1128.4C934.6,1128.4 933.3,1129.5 932.1,1129.5C930.9,1129.4 929.7,1128.4 928.4,1128.2C927.1,1127.9 925.8,1127.8 924.5,1128C923.1,1128.2 921.5,1129.4 920,1129.5C918.5,1129.6 917.2,1128.5 915.7,1128.6C914.3,1128.6 912.6,1129.5 911.2,1129.7C909.9,1129.8 908.6,1129.7 907.6,1129.4C906.6,1129.2 906.2,1128.2 905,1128.3C903.8,1128.4 901.9,1129.8 900.3,1129.8C898.7,1129.8 896.6,1128.5 895.4,1128.3C894.1,1128.1 893.7,1128.2 892.7,1128.4C891.6,1128.6 890.3,1129.7 889,1129.6C887.7,1129.5 886.3,1128.1 884.9,1127.9C883.5,1127.6 881.9,1128.1 880.6,1128.1C879.4,1128.1 879,1128 877.5,1127.9C876,1127.9 873.1,1127.6 871.7,1127.9C870.4,1128.1 870.5,1129.3 869.3,1129.4C868.2,1129.4 866.5,1128.2 864.9,1128.2C863.3,1128.3 861.2,1129.9 859.8,1129.8C858.5,1129.7 858.3,1127.8 856.9,1127.8C855.6,1127.8 853.1,1129.7 851.9,1129.7C850.7,1129.7 850.9,1127.8 849.6,1127.7C848.4,1127.7 845.6,1129.7 844.4,1129.3C843.3,1128.9 843.6,1126.4 843,1125.4C842.3,1124.4 841.4,1124 840.7,1123.3C839.9,1122.6 839,1122 838.4,1121C837.8,1120 837,1118.7 837.2,1117.3C837.3,1116 839,1114.4 839,1112.9C839,1111.4 837.2,1110.1 837.2,1108.5C837.1,1107 838.7,1105.5 838.7,1103.8C838.7,1102.1 837.2,1099.8 837.1,1098.4C837.1,1097 838,1096.5 838.5,1095.4C839,1094.4 839.3,1092.8 840.1,1091.9C840.9,1091.1 842.6,1091 843.5,1090.2C844.3,1089.4 844.2,1087.5 845,1087.3Z" fill="#dcdcdc" stroke="#231815" stroke-width="1.5"/>
<path d="M827.4,1148 V1284 M835.6,1148 V1284" stroke="#231815" stroke-width="1.4"/>
<path d="M821.8,1103.4 H840 V1113 L835.5,1121 V1148.6 H826.5 V1121 L821.8,1113Z" fill="#3e3a39"/>
<rect x="823" y="1102.5" width="16" height="3" fill="#555152"/>
<path d="M723.5,1237.7 C716,1210 722,1180 741,1160" fill="none" stroke="#e6005a" stroke-width="3.4" stroke-linecap="round"/>
<path d="M760.7,1143.7 L741.5,1173.5 L740,1161 L726.5,1155Z" fill="#e6005a"/>
</g>
<g clip-path="url(#c41)">
<path d="M14,1469 H230 L230,1530 L200,1540 L140,1590 L90,1585  L69,1589 L42,1587 L22,1574 L14,1556Z" fill="#dcdcdc"/>
<path d="M14,1556C14.5,1556.5 16.4,1557.7 17.3,1559.2C18.2,1560.8 18.1,1562.9 19.2,1565.1C20.3,1567.4 22.6,1570.2 23.8,1572.6C25.1,1574.9 25.6,1577.8 26.9,1579.3C28.3,1580.8 30.1,1580.4 31.9,1581.6C33.7,1582.8 36.1,1585.6 37.9,1586.5C39.7,1587.5 40.7,1587.5 42.6,1587.3C44.5,1587.1 46.8,1585.4 49.4,1585.5C51.9,1585.6 55.4,1587.7 57.8,1587.9C60.1,1588 61.5,1586.1 63.4,1586.4C65.3,1586.7 67.1,1589.9 69.3,1589.6C71.4,1589.3 74.2,1585.7 76.4,1584.4C78.6,1583.1 80,1582.4 82.3,1581.7C84.6,1580.9 88.7,1580.3 90,1580" fill="none" stroke="#231815" stroke-width="1.5"/>
<path d="M227.4,1469C227.7,1470 229,1473.4 229.2,1475.3C229.5,1477.1 228.9,1478 228.7,1480.1C228.5,1482.1 227.9,1485.7 227.9,1487.6C228,1489.4 229.2,1489.7 229.3,1491.3C229.4,1492.9 228.5,1495.2 228.7,1497.2C228.9,1499.2 230.4,1501.6 230.3,1503.3C230.1,1505.1 228.4,1506 227.8,1507.9C227.1,1509.8 225.9,1512.8 226.2,1514.8C226.4,1516.8 228.1,1518.4 229.1,1519.9C230.1,1521.5 232.8,1523.5 232.3,1524.3C231.9,1525 227.9,1523.7 226.2,1524.3C224.4,1524.9 223.4,1527.2 221.7,1527.9C220,1528.6 217.8,1527.6 215.9,1528.5C214,1529.5 212,1532.5 210.2,1533.5C208.4,1534.6 205.9,1534.8 205,1535" fill="none" stroke="#231815" stroke-width="1.5"/>
<path d="M91,1513.1C92.2,1512.3 95.8,1510 98,1508.5C100.1,1507 102.1,1504.7 103.9,1504C105.8,1503.3 107.4,1504.7 108.8,1504.3C110.2,1503.8 110.5,1501.6 112.3,1501.2C114.1,1500.8 117.8,1502.1 119.7,1501.8C121.6,1501.5 121.9,1500 123.7,1499.3C125.6,1498.6 128.5,1498.6 130.6,1497.7C132.7,1496.8 134.7,1495.2 136.4,1494C138.1,1492.7 139.8,1492 140.9,1490.2C141.9,1488.5 141.5,1485.2 142.6,1483.6C143.6,1482 145.7,1482.2 147.2,1480.5C148.7,1478.8 149.8,1475.4 151.5,1473.5C153.1,1471.5 156.1,1469.7 157,1469" fill="none" stroke="#231815" stroke-width="1.5"/>
<g transform="translate(37.8,1494.6)"><circle r="13" fill="none" stroke="#fff" stroke-width="4" stroke-opacity="0.7"/><circle r="13" fill="none" stroke="#231815" stroke-width="1.6"/><path d="M-4.8,-8.1 L2.4,-8.1 L2.4,8.7 L-1.5,8.7 L-1.5,-5.2 L-4.8,-5.2Z" fill="#231815"/></g>
<path d="M76,1593 L14,1630 L14,1662 L22.8,1666 L98,1619Z" fill="#9f9f9f" stroke="#231815" stroke-width="1.4"/>
<path d="M14,1668 L22,1672" stroke="#231815" stroke-width="1.2"/>
<path d="M142.8,1483.4 L212.8,1519.8 L215.6,1566 L196.6,1584.6 L187.8,1580.2 L146,1600 L140,1612 L125,1622 L108.6,1624.2 L88,1618 L76,1606 L73.4,1590 L78,1572 L86.6,1562.6 L86.6,1551.6 L95,1534 L110,1526 L126,1514 L136,1495Z" fill="#9f9f9f" stroke="#231815" stroke-width="1.5" stroke-linejoin="round"/>
<path d="M189,1535.2 L191.8,1580 M189,1535.2 L212.8,1519.8 M176.8,1540.6 L137.2,1562.6 M176.8,1540.6 L189,1535.2 M179,1571.4 L146,1591.2" fill="none" stroke="#231815" stroke-width="1.3"/>
<ellipse cx="202.1" cy="1542.8" rx="6" ry="7" fill="none" stroke="#231815" stroke-width="1.2"/>
<ellipse cx="204.3" cy="1565.9" rx="6" ry="7" fill="none" stroke="#231815" stroke-width="1.2"/>
<g transform="translate(108,1590) rotate(-22)"><path d="M-34,-6 A34,22 0 0 0 34,-6 L34,4 A34,26 0 0 1 -34,4Z" fill="#9f9f9f" stroke="#231815" stroke-width="1.4"/>
<ellipse cx="0" cy="-6" rx="34" ry="22" fill="#9f9f9f" stroke="#231815" stroke-width="1.4"/>
<ellipse cx="3" cy="-4" rx="24" ry="15" fill="#fff" stroke="#231815" stroke-width="1.3"/>
<path d="M-18,-2 A22,13 0 0 1 26,-6" fill="none" stroke="#231815" stroke-width="1.2"/></g>
<g transform="translate(115,1548) rotate(-22)"><path d="M-29,0 A29,22 0 0 0 29,0 L29,7 A29,22 0 0 1 -29,7Z" fill="#9f9f9f" stroke="#231815" stroke-width="1.4"/>
<ellipse cx="0" cy="0" rx="29" ry="22" fill="#9f9f9f" stroke="#231815" stroke-width="1.4"/>
<ellipse cx="3" cy="-1" rx="19" ry="13" fill="#e8e8e8" stroke="#231815" stroke-width="1.3"/>
<path d="M-15,6 A18,9 0 0 1 20,4" fill="none" stroke="#231815" stroke-width="1.2"/></g>
<path d="M74.4,1690.4 L132,1642.4" stroke="#e6005a" stroke-width="3.2" stroke-linecap="round"/>
<path d="M153.6,1626.8 L135.6,1659.2 L132,1642.4 L117.6,1637.6Z" fill="#e6005a"/>
<path d="M158.4,1604 L186,1613.6 L177.6,1625.6Z" fill="#1d2a5c"/>
<circle cx="240" cy="1659.5" r="69.4" fill="#fff" stroke="#1d2a5c" stroke-width="1.6"/>
<clipPath id="mag"><circle cx="240" cy="1659.5" r="68.6"/></clipPath>
<g clip-path="url(#mag)">
<path d="M168,1682 L201.6,1660.4 L228,1697.6 L196,1722 Z" fill="#9f9f9f" stroke="#231815" stroke-width="1.4"/>
<path d="M201.6,1640C206.3,1631.6 216.4,1614.7 228,1608.8C239.6,1602.9 260.7,1601.7 271.2,1604.4C281.7,1607.1 286.9,1615.9 291,1625C295.1,1634.1 297,1649 296,1659.2C295,1669.4 292.3,1678.8 285,1686C277.7,1693.2 261.8,1700.2 252,1702.4C242.2,1704.6 234,1702.2 226,1699C218,1695.8 208.3,1689.8 204,1683.2C199.7,1676.6 200.4,1666.4 200,1659.2C199.6,1652 196.9,1648.4 201.6,1640Z" fill="#9f9f9f" stroke="#231815" stroke-width="1.5"/>
<path d="M201,1662C205.8,1665 219.8,1676.3 230,1680C240.2,1683.7 251.7,1686.7 262,1684C272.3,1681.3 287,1667.3 292,1664" fill="none" stroke="#231815" stroke-width="1.4"/>
<path d="M206.4,1637.6C209.7,1628.4 221.7,1617.1 232,1613C242.3,1608.9 259.5,1609.2 268,1613C276.5,1616.8 281.7,1626.8 283,1636C284.3,1645.2 282.8,1661.2 276,1668C269.2,1674.8 253.1,1677 242.4,1677C231.7,1677 218,1674.6 212,1668C206,1661.4 203.1,1646.8 206.4,1637.6Z" fill="#9f9f9f" stroke="#231815" stroke-width="1.4"/>
<path d="M226,1672C223.3,1668.2 225.8,1657 229,1652C232.2,1647 238.2,1643.8 245,1642C251.8,1640.2 264.8,1639.7 270,1641C275.2,1642.3 275.7,1645.5 276,1650C276.3,1654.5 277.2,1663.8 272,1668C266.8,1672.2 252.7,1674.3 245,1675C237.3,1675.7 228.7,1675.8 226,1672Z" fill="#fff" stroke="#231815" stroke-width="1.3"/>
<path d="M228,1648 L234,1651 L232,1660 M248,1643 L250,1649 L268,1649 L270,1643" fill="none" stroke="#231815" stroke-width="1.2"/>
<path d="M229,1652 C224,1658 224,1668 230,1674" fill="none" stroke="#231815" stroke-width="1.2"/>
</g>
</g>
</g>
<g clip-path="url(#c42)">
<g transform="translate(368.2,1494.2)"><circle r="13" fill="none" stroke="#231815" stroke-width="1.6"/><path d="M-4.6,-5.2 C-3.7,-7.2 -1.9,-8.1 0.3,-8.1 C3.3,-8.1 5.1,-6.4 5.1,-3.9 C5.1,-1.9 3.8,-0.4 1.8,1.6 L-3.6,6.6" fill="none" stroke="#231815" stroke-width="2.5"/><path d="M-5.2,5.6 L-2.6,5.6 L-2.6,5.9 H5.8 V8.3 H-5.2Z" fill="#231815"/></g>
<path d="M398.1,1740 V1690 H454.8 V1740Z" fill="#9d9d9d" stroke="#231815" stroke-width="1.4"/>
<path d="M372.9,1583.7 V1651.2 A53.1,53.1 0 0 0 479.1,1651.2 V1583.7Z" fill="#9d9d9d" stroke="#231815" stroke-width="1.4"/>
<rect x="340" y="1523.4" width="174.2" height="60.3" fill="#9d9d9d" stroke="#231815" stroke-width="1.4"/>
<circle cx="426" cy="1649.4" r="41.4" fill="#9d9d9d" stroke="#231815" stroke-width="1.4"/>
<path d="M418.8,1608.2 V1621.8 A28.8,28.8 0 0 0 398.4,1641.3 H385 M385,1658.4 H398.4 A28.8,28.8 0 0 0 418.8,1677.6 V1690.6 M435,1690.6 V1677.6 A28.8,28.8 0 0 0 454.6,1658.4 H467.3 M467.3,1641.3 H454.6 A28.8,28.8 0 0 0 435,1621.8 V1608.2" fill="none" stroke="#231815" stroke-width="1.4"/>
<path d="M549.5,1564 C520,1545 470,1545 444,1608" fill="none" stroke="#e6005a" stroke-width="3.2"/>
<path d="M441.3,1629.6 L431.4,1595.4 L444,1606.2 L459.3,1598.1Z" fill="#e6005a"/>
<g fill="#fff" stroke="#231815" stroke-width="1.5">
<path d="M498.5,1617 C495,1632 502,1643 513,1645" fill="none"/>
<ellipse cx="511" cy="1622" rx="7" ry="14" transform="rotate(-15 511 1622)" fill="none"/>
<path d="M534,1601 C527,1596 520,1600 518,1610 C516,1622 521,1636 530,1640" fill="none"/>
<ellipse cx="521" cy="1620" rx="7" ry="14" transform="rotate(-15 521 1620)"/>
<ellipse cx="516" cy="1622" rx="7" ry="15" transform="rotate(-15 516 1622)" fill="none"/>
<ellipse cx="527" cy="1620" rx="6" ry="13" transform="rotate(-15 527 1620)"/>
<path d="M537.5,1580.5 L565.5,1572.5 L569,1585 L541,1593Z"/>
<path d="M552,1645 L586,1635 L589.5,1648 L555.5,1658Z"/>
<path d="M532.5,1588.6 L612.4,1563.1 C640,1555 650,1618 636.2,1626 L552.9,1649.8 C540,1653 524,1640 524,1622 C524,1605 526,1592 532.5,1588.6Z"/>
<ellipse cx="626" cy="1595.4" rx="13" ry="27" transform="rotate(-14 626 1595.4)"/>
<path d="M612,1568 C600,1585 603,1620 625,1625" fill="none"/>
<path d="M519,1613 L549,1607 L553,1626 L523,1632Z"/>
<path d="M545,1608 L549,1626" fill="none"/>
<path d="M560,1570 L563,1582" fill="none"/>
</g>
<path d="M586,1519.8 V1595.4" stroke="#231815" stroke-width="1.3"/>
<circle cx="586" cy="1596" r="5" fill="#231815"/>
<text x="587.5" y="1516" font-size="19" text-anchor="middle" fill="#231815">バネパーツ</text>
</g>
<g clip-path="url(#c43)">
<path d="M676,1469 L757,1469C756.9,1470.1 756.3,1473.7 756.6,1475.7C756.9,1477.7 758.5,1479.2 758.7,1480.9C758.8,1482.7 757.7,1484 757.4,1485.9C757.2,1487.9 756.9,1490.4 757.3,1492.4C757.7,1494.4 759.7,1496.3 759.9,1497.9C760,1499.6 758.6,1500.6 758.4,1502.4C758.2,1504.1 758.6,1506.5 758.7,1508.5C758.8,1510.6 758.6,1512.5 758.8,1514.7C759,1516.9 760.2,1519.7 760,1521.9C759.8,1524.1 757.9,1526.1 757.8,1527.9C757.7,1529.6 759.4,1530.7 759.2,1532.5C759,1534.2 756.8,1535.8 756.3,1538.1C755.8,1540.4 755.7,1544.1 756.1,1546.2C756.4,1548.3 758.2,1549 758.6,1550.9C758.9,1552.8 757.7,1555.8 758.2,1557.8C758.7,1559.9 761,1560.9 761.5,1563.1C762,1565.2 760.6,1568.4 761.2,1570.8C761.7,1573.2 764.6,1575.2 764.6,1577.4C764.7,1579.5 762,1581.5 761.6,1583.8C761.2,1586.1 762.3,1589.2 762.3,1591.2C762.3,1593.2 762.3,1593.9 761.7,1595.6C761.1,1597.4 759.3,1599.4 758.8,1601.6C758.2,1603.8 759.2,1607 758.4,1609C757.5,1611 754.4,1612 753.8,1613.6C753.3,1615.1 755.4,1616.5 754.8,1618.2C754.2,1619.8 751.8,1621.5 750.4,1623.5C748.9,1625.5 747.6,1628.6 746.1,1630.1C744.5,1631.7 742.4,1631.5 741,1632.8C739.7,1634 739.6,1635.7 738.3,1637.6C736.9,1639.4 734.9,1643 732.9,1644.1C730.9,1645.2 728,1643.7 726.5,1644.3C724.9,1644.9 724.9,1647 723.3,1647.8C721.7,1648.7 718.5,1648.5 716.9,1649.5C715.2,1650.5 715.2,1653 713.5,1653.7C711.9,1654.5 708.9,1653.3 706.8,1653.9C704.8,1654.5 702.9,1657 701.3,1657.5C699.7,1658 698.9,1656.7 697.2,1656.9C695.5,1657.2 693,1658.1 691.1,1659C689.2,1660 687.6,1662 685.8,1662.5C684,1663.1 681.8,1661.9 680.2,1662.3C678.5,1662.6 676.7,1664.2 676,1664.6 L676,1664.6Z" fill="#dcdcdc"/>
<path d="M757,1469C756.9,1470.1 756.3,1473.7 756.6,1475.7C756.9,1477.7 758.5,1479.2 758.7,1480.9C758.8,1482.7 757.7,1484 757.4,1485.9C757.2,1487.9 756.9,1490.4 757.3,1492.4C757.7,1494.4 759.7,1496.3 759.9,1497.9C760,1499.6 758.6,1500.6 758.4,1502.4C758.2,1504.1 758.6,1506.5 758.7,1508.5C758.8,1510.6 758.6,1512.5 758.8,1514.7C759,1516.9 760.2,1519.7 760,1521.9C759.8,1524.1 757.9,1526.1 757.8,1527.9C757.7,1529.6 759.4,1530.7 759.2,1532.5C759,1534.2 756.8,1535.8 756.3,1538.1C755.8,1540.4 755.7,1544.1 756.1,1546.2C756.4,1548.3 758.2,1549 758.6,1550.9C758.9,1552.8 757.7,1555.8 758.2,1557.8C758.7,1559.9 761,1560.9 761.5,1563.1C762,1565.2 760.6,1568.4 761.2,1570.8C761.7,1573.2 764.6,1575.2 764.6,1577.4C764.7,1579.5 762,1581.5 761.6,1583.8C761.2,1586.1 762.3,1589.2 762.3,1591.2C762.3,1593.2 762.3,1593.9 761.7,1595.6C761.1,1597.4 759.3,1599.4 758.8,1601.6C758.2,1603.8 759.2,1607 758.4,1609C757.5,1611 754.4,1612 753.8,1613.6C753.3,1615.1 755.4,1616.5 754.8,1618.2C754.2,1619.8 751.8,1621.5 750.4,1623.5C748.9,1625.5 747.6,1628.6 746.1,1630.1C744.5,1631.7 742.4,1631.5 741,1632.8C739.7,1634 739.6,1635.7 738.3,1637.6C736.9,1639.4 734.9,1643 732.9,1644.1C730.9,1645.2 728,1643.7 726.5,1644.3C724.9,1644.9 724.9,1647 723.3,1647.8C721.7,1648.7 718.5,1648.5 716.9,1649.5C715.2,1650.5 715.2,1653 713.5,1653.7C711.9,1654.5 708.9,1653.3 706.8,1653.9C704.8,1654.5 702.9,1657 701.3,1657.5C699.7,1658 698.9,1656.7 697.2,1656.9C695.5,1657.2 693,1658.1 691.1,1659C689.2,1660 687.6,1662 685.8,1662.5C684,1663.1 681.8,1661.9 680.2,1662.3C678.5,1662.6 676.7,1664.2 676,1664.6" fill="none" stroke="#231815" stroke-width="1.5"/>
<g transform="translate(704,1494.2)"><circle r="13" fill="none" stroke="#fff" stroke-width="4" stroke-opacity="0.7"/><circle r="13" fill="none" stroke="#231815" stroke-width="1.6"/><path d="M-5.1,-7.1 H4.4 L-0.8,-1.2 C3.4,-1.6 5.4,0.9 5.4,3.4 C5.4,6.9 2.4,8.3 -0.1,8.3 C-2.6,8.3 -4.1,7.6 -5.3,6.6" fill="none" stroke="#231815" stroke-width="2.5" stroke-linejoin="miter"/></g>
<path d="M951.6,1466C954.8,1466.9 969.2,1469.3 970.8,1471.6C972.4,1473.9 962.2,1476.2 961.2,1480C960.2,1483.8 965.6,1490 964.8,1494.4C964,1498.8 957.4,1501.6 956.4,1506.4C955.4,1511.2 959.6,1518 958.8,1523.2C958,1528.4 953.2,1533.6 951.6,1537.6C950,1541.6 950.1,1544.8 949.2,1547.2C948.3,1549.6 946.5,1551.2 946,1552 L930,1552 L930,1466Z" fill="#9f9f9f" stroke="#231815" stroke-width="1.4"/>
<path d="M757.2,1466 L763.2,1580.8 L764.4,1621.6 C766,1660 790,1700 838.2,1740 L945,1740 C935,1715 926,1695 925.6,1683.3 C945,1650 952,1610 949.2,1576 C947,1540 935,1500 928.8,1466Z" fill="#9f9f9f" stroke="#231815" stroke-width="1.5"/>
<path d="M770.4,1474 L829.2,1468" stroke="#231815" stroke-width="1.3"/>
<g fill="none" stroke="#231815" stroke-width="1.4">
<path d="M766,1628 C775,1700 945,1700 948,1620"/>
<path d="M768,1646 C780,1718 940,1716 944,1640"/>
<path d="M776,1666 C792,1732 930,1730 936,1662"/>
<path d="M790,1690 C810,1745 920,1740 928,1690"/>
</g>
<path d="M789.6,1577.2 L792,1612 C800,1665 935,1665 942,1610 L942,1571 C920,1560 810,1560 789.6,1577.2Z" fill="#9f9f9f" stroke="#231815" stroke-width="1.4"/>
<path d="M794.4,1540 V1607.2 C805,1640 925,1640 928.8,1595.2 V1547.2Z" fill="#9f9f9f" stroke="#231815" stroke-width="1.4"/>
<path d="M809.6,1560 C830,1578 890,1582 920,1567.2" fill="none" stroke="#231815" stroke-width="1.3"/>
<ellipse cx="862" cy="1543.4" rx="68" ry="32.2" fill="#9f9f9f" stroke="#231815" stroke-width="1.4"/>
<path d="M799.2,1547.2 C815,1572 900,1580 927.6,1559.2" fill="none" stroke="#231815" stroke-width="1.3"/>
<path d="M800,1600.8 C815,1612 835,1620 850,1622" fill="none" stroke="#231815" stroke-width="1.3"/>
<path d="M818,1616.4 L838.4,1622.4 L839,1608 Q839.5,1605 842,1605 L846.8,1605 Q849.8,1605 849.8,1608 L850.4,1635 L893.6,1632 L893.6,1608 Q894,1605 897.2,1605 L900.8,1606.2 L902,1616.4 L903.2,1634.4 C896,1640 884,1644 855.2,1647.6 L836,1647.6 C828,1646.5 822,1645 818,1642.8Z" fill="#fff" stroke="#231815" stroke-width="1.3"/>
<path d="M900.8,1606.2 L903,1606 L904,1620 L902,1616.4" fill="#9f9f9f" stroke="#231815" stroke-width="1.1"/>
<path d="M844.4,1641 V1596 L898.4,1591.2 L899,1634.4 L881.6,1639.8 Z" fill="none" stroke="#1ea0e0" stroke-width="2.6" stroke-dasharray="4 2.6"/>
<path d="M891.2,1552 L878,1600" stroke="#e6005a" stroke-width="3.2" stroke-linecap="round"/>
<path d="M872,1626 L867.2,1589.4 L878,1599.6 L894.8,1597.2Z" fill="#e6005a"/>
<path d="M872.6,1502.3 V1527.3" stroke="#231815" stroke-width="1.3"/>
<circle cx="872.6" cy="1528" r="5" fill="#231815"/>
<text x="881" y="1499" font-size="19" text-anchor="middle" fill="#231815">カバー</text>
<path d="M760.2,1692.6 L858.5,1641.2" stroke="#231815" stroke-width="1.3"/>
<circle cx="858.5" cy="1641.2" r="5" fill="#231815"/>
<text x="730.5" y="1717" font-size="19" text-anchor="middle" fill="#231815">ストッパー</text>
</g>
<g fill="none" stroke="#231815" stroke-width="2">
<rect x="15" y="181" width="310" height="264"/>
<rect x="344" y="181" width="312" height="264"/>
<rect x="676" y="181" width="311" height="264"/>
<rect x="344" y="633" width="312" height="264"/>
<rect x="15" y="1018" width="310" height="264"/>
<rect x="342" y="1018" width="314" height="264"/>
<rect x="676" y="1018" width="311" height="264"/>
<rect x="15" y="1470" width="278" height="264"/>
<rect x="345" y="1470" width="311" height="264"/>
<rect x="677" y="1470" width="310" height="264"/>
</g>
<rect x="677" y="633" width="310" height="264" fill="none" stroke="#1e2a5a" stroke-width="2"/>
</svg>
</body></html>
